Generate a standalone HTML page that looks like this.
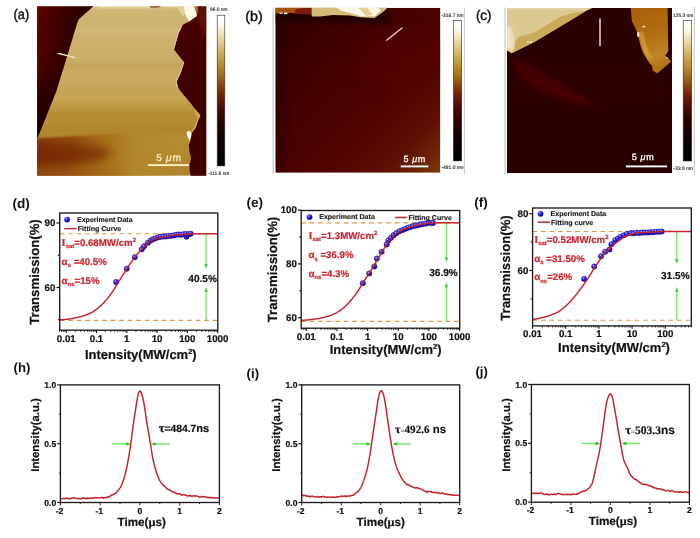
<!DOCTYPE html>
<html lang="en">
<head>
<meta charset="utf-8">
<title>Figure</title>
<style>
html,body{margin:0;padding:0;background:#fff;}
body{width:700px;height:538px;overflow:hidden;font-family:"Liberation Sans",Arial,sans-serif;}
svg{display:block;}
</style>
</head>
<body>
<svg width="700" height="538" viewBox="0 0 700 538" text-rendering="geometricPrecision">
<defs>

<filter id="b03" x="-5%" y="-5%" width="110%" height="110%"><feGaussianBlur stdDeviation="0.35"/></filter>
<filter id="b06" x="-5%" y="-5%" width="110%" height="110%"><feGaussianBlur stdDeviation="0.6"/></filter>
<filter id="b1" x="-10%" y="-10%" width="120%" height="120%"><feGaussianBlur stdDeviation="1"/></filter>
<filter id="b2" x="-20%" y="-20%" width="140%" height="140%"><feGaussianBlur stdDeviation="2"/></filter>
<filter id="b4" x="-30%" y="-30%" width="160%" height="160%"><feGaussianBlur stdDeviation="4"/></filter>
<filter id="b8" x="-50%" y="-50%" width="200%" height="200%"><feGaussianBlur stdDeviation="8"/></filter>
<linearGradient id="cbar" x1="0" y1="0" x2="0" y2="1">
 <stop offset="0" stop-color="#ffffff"/>
 <stop offset="0.06" stop-color="#fdfbf0"/>
 <stop offset="0.15" stop-color="#e8d8a6"/>
 <stop offset="0.25" stop-color="#cfae5c"/>
 <stop offset="0.33" stop-color="#ba8c2e"/>
 <stop offset="0.40" stop-color="#a26c18"/>
 <stop offset="0.47" stop-color="#88400c"/>
 <stop offset="0.54" stop-color="#6c1e06"/>
 <stop offset="0.62" stop-color="#4a0a02"/>
 <stop offset="0.72" stop-color="#2a0200"/>
 <stop offset="0.82" stop-color="#100000"/>
 <stop offset="1" stop-color="#000000"/>
</linearGradient>
<radialGradient id="ball" cx="0.36" cy="0.32" r="0.75">
 <stop offset="0" stop-color="#dfe4ff"/>
 <stop offset="0.22" stop-color="#4448f2"/>
 <stop offset="0.6" stop-color="#1412d8"/>
 <stop offset="1" stop-color="#10068a"/>
</radialGradient>

<clipPath id="clipA"><rect x="37.1" y="6.3" width="169.2" height="169.5"/></clipPath>

<linearGradient id="aFlake" gradientUnits="userSpaceOnUse" x1="0" y1="6" x2="0" y2="175">
 <stop offset="0" stop-color="#dcc68e"/>
 <stop offset="0.03" stop-color="#d0b674"/>
 <stop offset="0.25" stop-color="#ccb06a"/>
 <stop offset="0.45" stop-color="#c8a95e"/>
 <stop offset="0.58" stop-color="#c09c48"/>
 <stop offset="0.68" stop-color="#b58d34"/>
 <stop offset="0.74" stop-color="#b0862a"/>
 <stop offset="0.79" stop-color="#b68e34"/>
 <stop offset="1" stop-color="#b0832a"/>
</linearGradient>
<linearGradient id="aSub" gradientUnits="userSpaceOnUse" x1="37" y1="0" x2="190" y2="0">
 <stop offset="0" stop-color="#8a3a0a"/>
 <stop offset="0.2" stop-color="#944a0c"/>
 <stop offset="0.42" stop-color="#a46c16"/>
 <stop offset="0.62" stop-color="#b0862a"/>
 <stop offset="1" stop-color="#b48c30" stop-opacity="0"/>
</linearGradient>
<linearGradient id="aDarkL" gradientUnits="userSpaceOnUse" x1="37" y1="0" x2="80" y2="0">
 <stop offset="0" stop-color="#620605"/>
 <stop offset="0.25" stop-color="#4e0202"/>
 <stop offset="0.6" stop-color="#3e0000"/>
 <stop offset="1" stop-color="#300000"/>
</linearGradient>
<linearGradient id="aDarkLv" gradientUnits="userSpaceOnUse" x1="0" y1="6" x2="0" y2="138">
 <stop offset="0" stop-color="#000" stop-opacity="0"/>
 <stop offset="0.45" stop-color="#000" stop-opacity="0.15"/>
 <stop offset="0.75" stop-color="#000" stop-opacity="0.55"/>
 <stop offset="1" stop-color="#000" stop-opacity="0.8"/>
</linearGradient>
<linearGradient id="aDarkR" gradientUnits="userSpaceOnUse" x1="0" y1="6" x2="0" y2="175">
 <stop offset="0" stop-color="#4a0805"/>
 <stop offset="0.3" stop-color="#410302"/>
 <stop offset="0.6" stop-color="#3c0201"/>
 <stop offset="0.8" stop-color="#420302"/>
 <stop offset="1" stop-color="#400302"/>
</linearGradient>

<clipPath id="clipB"><rect x="275.4" y="7.8" width="165" height="165"/></clipPath>

<linearGradient id="bBase" gradientUnits="userSpaceOnUse" x1="290" y1="25" x2="440" y2="172">
 <stop offset="0" stop-color="#360000"/>
 <stop offset="0.3" stop-color="#440100"/>
 <stop offset="0.6" stop-color="#500401"/>
 <stop offset="0.8" stop-color="#5e0e03"/>
 <stop offset="0.92" stop-color="#6e2406"/>
 <stop offset="1" stop-color="#7e3a0a"/>
</linearGradient>

<clipPath id="clipC"><rect x="507" y="8" width="165" height="165.2"/></clipPath>

<linearGradient id="cBase" x1="0" y1="0" x2="0" y2="1">
 <stop offset="0" stop-color="#2a0000"/>
 <stop offset="0.5" stop-color="#2c0000"/>
 <stop offset="1" stop-color="#280000"/>
</linearGradient>
<linearGradient id="cGold" gradientUnits="userSpaceOnUse" x1="640" y1="8" x2="660" y2="72">
 <stop offset="0" stop-color="#a8620e"/>
 <stop offset="0.45" stop-color="#b26e12"/>
 <stop offset="0.75" stop-color="#bf8426"/>
 <stop offset="1" stop-color="#ac6c12"/>
</linearGradient>

</defs>
<rect x="0" y="0" width="700" height="538" fill="#ffffff"/>
<g clip-path="url(#clipA)">
<rect x="37.1" y="6.3" width="169.2" height="169.5" fill="url(#aFlake)"/>
<g filter="url(#b2)" opacity="0.5">
<rect x="60" y="28" width="130" height="5" fill="#d8c084"/>
<rect x="50" y="64" width="140" height="4" fill="#bd9a4a"/>
<rect x="40" y="96" width="150" height="5" fill="#d0b060"/>
<rect x="40" y="112" width="160" height="6" fill="#b08428"/>
</g>
<g filter="url(#b1)">
<polygon points="30,138.8 110,134 150,131.5 195,129 195,180 30,180" fill="url(#aSub)"/>
</g>
<g filter="url(#b4)">
<polygon points="20,144 70,143 100,147 114,153 98,161 64,166 20,167" fill="#6c2005" opacity="0.62"/>
<polygon points="34,168 120,166 120,178 34,178" fill="#a06214" opacity="0.3"/>
</g>
<g filter="url(#b06)">
<polygon points="30,0 93.5,0 93.2,6.5 79,19 77.2,23 66,60 56,92 37.5,138 30,138" fill="url(#aDarkL)"/>
<polygon points="30,0 93.5,0 93.2,6.5 79,19 77.2,23 66,60 56,92 37.5,138 30,138" fill="url(#aDarkLv)"/>
<polygon points="197,0 197,6 196.5,16 189,21.5 182.5,25 178.5,33.5 174,49.5 178.5,55.3 182.4,60.3 184.3,62.2 181.1,71.9 178.6,77.6 176.6,82.1 178.6,88.6 183.7,95 191.4,104 194,107.7 200.4,115.4 198.5,119.3 195.3,128.3 191.4,133.4 190.8,139.8 188.8,145 189.5,151.4 191.2,158 189.5,164.8 189.5,170 190.8,176 215,176 215,0" fill="url(#aDarkR)"/>
</g>
<polygon points="197,8 206,8 206,40 202,30" fill="#7a1a0c" opacity="0.6" filter="url(#b2)"/>
<g filter="url(#b03)" fill="none" stroke="#f3e2b0" stroke-width="1" stroke-dasharray="1.3 0.9">
<polyline points="182,25.5 178.2,33.5 173.8,49"/>
<polyline points="183.6,62.5 180.6,72 178,77.5 176.2,82 177.5,87"/>
</g>
<polyline points="199.8,116 198,119.5 195,128 191.5,132" fill="none" stroke="#e6c070" stroke-width="1" filter="url(#b03)"/>
<polygon points="149,6 161,6 158,8.2 151,8" fill="#6a2008" filter="url(#b06)"/>
<g filter="url(#b06)">
<polygon points="193,6 198,6 197.5,14 196,15" fill="#a8742a"/>
<polygon points="183,6 194,6 197,16 189,21.6 185,14" fill="#fffbea"/>
<polygon points="177,6 183.5,6 185,13 183,17 180,12" fill="#e6d09a"/>
<polygon points="186.3,132.5 189,130.8 191.6,133 191,137 189.6,140.3 187.6,137" fill="#fffdf2"/>
<polygon points="194.5,108.5 200.2,115.2 198.6,118.6 195,114" fill="#d9a648"/>
</g>
<rect x="100" y="6" width="60" height="2.5" fill="#efe2ba" opacity="0.6" filter="url(#b1)"/>
<line x1="58" y1="53.3" x2="75" y2="57.6" stroke="#f4e6c0" stroke-width="1.4" stroke-linecap="round" filter="url(#b03)"/>
<rect x="148.2" y="164.15" width="40.8" height="1.9" fill="#f8eec8"/>
<text x="156.2" y="160.9" font-family='"Liberation Sans", Arial, Helvetica, sans-serif' font-size="10.1" letter-spacing="0.75" fill="#f8eec8" stroke="#f8eec8" stroke-width="0.3">5 <tspan font-style="italic">μ</tspan>m</text>
</g>
<rect x="217.2" y="15.2" width="7.6" height="150.7" fill="url(#cbar)" stroke="#2a2a2a" stroke-width="0.6"/>
<text x="218.8" y="11" font-family='"Liberation Sans", Arial, Helvetica, sans-serif' font-size="4.9" text-anchor="middle" fill="#222" stroke="#222" stroke-width="0.12">96.0 nm</text>
<text x="218.8" y="174.6" font-family='"Liberation Sans", Arial, Helvetica, sans-serif' font-size="4.9" text-anchor="middle" fill="#222" stroke="#222" stroke-width="0.12">-111.8 nm</text>
<text x="13.6" y="19.4" font-family='"Liberation Sans", Arial, Helvetica, sans-serif' font-size="14" font-weight="normal" fill="#111" stroke="#111" stroke-width="0.45" textLength="15.6" lengthAdjust="spacingAndGlyphs">(a)</text>
<line x1="273.2" y1="7.6" x2="273.2" y2="173.8" stroke="#d2d2d2" stroke-width="1.4"/>
<g clip-path="url(#clipB)">
<rect x="275.4" y="7.8" width="165" height="165" fill="url(#bBase)"/>
<ellipse cx="400" cy="60" rx="45" ry="30" fill="#560503" opacity="0.35" filter="url(#b8)"/>
<rect x="270" y="12" width="120" height="11" fill="#1c0000" opacity="0.75" filter="url(#b2)"/>
<rect x="272" y="20" width="14" height="150" fill="#2a0000" opacity="0.5" filter="url(#b4)"/>
<g filter="url(#b06)">
<polygon points="275,6 313,6 312,14 300,13 290,13 275,13.5" fill="#a4520f"/>
<polygon points="296,9.2 303,8 312,8 312,14.5 294,14" fill="#7c1c0a"/>
<polygon points="311.7,6 388,6 386,9.5 379.5,14.6 374.5,18 360.6,17.2 350,15.4 333,15 320,16.5 311.7,16.5" fill="#d6bc7c"/>
<polygon points="335,6 376,6 381,10 375,16 362,16.5 352,13.5 340,10.3" fill="#fbf6e2"/>
<polygon points="358,7.5 367,7.5 373,15 366,16" fill="#e2cf9a"/>
<rect x="279.5" y="12.6" width="3" height="1.4" fill="#f3dcc0"/><rect x="284" y="12.6" width="3.4" height="1.6" fill="#fff"/>
</g>
<line x1="386.6" y1="40.2" x2="402" y2="27.9" stroke="#f2cdb6" stroke-width="1.3" stroke-linecap="round" filter="url(#b03)"/>
<rect x="400.7" y="165.45" width="27.6" height="1.9" fill="#fff"/>
<text x="403.4" y="161.6" font-family='"Liberation Sans", Arial, Helvetica, sans-serif' font-size="9" letter-spacing="0.65" fill="#fff" stroke="#fff" stroke-width="0.3">5 <tspan font-style="italic">μ</tspan>m</text>
</g>
<rect x="453.4" y="20.3" width="8.3" height="140.6" fill="url(#cbar)" stroke="#2a2a2a" stroke-width="0.6"/>
<text x="452.5" y="17" font-family='"Liberation Sans", Arial, Helvetica, sans-serif' font-size="4.9" text-anchor="middle" fill="#222" stroke="#222" stroke-width="0.12">-316.7 nm</text>
<text x="452.5" y="169.1" font-family='"Liberation Sans", Arial, Helvetica, sans-serif' font-size="4.9" text-anchor="middle" fill="#222" stroke="#222" stroke-width="0.12">-481.0 nm</text>
<line x1="464.5" y1="7.6" x2="464.5" y2="174.5" stroke="#cfcfcf" stroke-width="1.2"/>
<text x="245.3" y="20.7" font-family='"Liberation Sans", Arial, Helvetica, sans-serif' font-size="14" font-weight="normal" fill="#111" stroke="#111" stroke-width="0.45" textLength="17.4" lengthAdjust="spacingAndGlyphs">(b)</text>
<line x1="505.0" y1="7.6" x2="505.0" y2="174.4" stroke="#d2d2d2" stroke-width="1.4"/>
<g clip-path="url(#clipC)">
<rect x="507" y="8" width="165" height="165.2" fill="url(#cBase)"/>
<polygon points="512,58 540,70 575,92 600,106 585,106 550,96 520,80" fill="#4a0502" opacity="0.85" filter="url(#b2)"/>
<g filter="url(#b06)">
<polygon points="505,6 592.6,6 591.6,8.6 585.8,11.1 568.6,21.4 551.5,31.7 534.3,42 511.6,53.2 505,49.5" fill="#dbc990"/>
<polygon points="577,12.2 561.4,16.3 547,24.9 534,32.7 518.6,37 515.7,40.6 514.3,49 512.5,53 534.3,42 551.5,31.7 568.6,21.4 585.8,11.1" fill="#c9aa56"/>
<polygon points="505,27 511,27 514,38 513.5,50 505,48" fill="#f1e9cc" opacity="0.8" filter="url(#b1)"/>
<rect x="505" y="6" width="82" height="4" fill="#e6d9aa" opacity="0.7"/>
<polygon points="630.7,6 667.5,6 668.3,51 665.3,55.5 667.5,57.7 671.3,61.4 657.1,73.6 652.7,70.4 652,65.9 647.5,60 643,52.5 640.8,46.6 638.6,37.7 637.1,31.7 634.9,27.3 631.9,21.3" fill="url(#cGold)"/>
<polygon points="639.5,30 643,33 647,48 652,58 648.5,58.5 643.5,50 640.5,40" fill="#d8a648" opacity="0.75" filter="url(#b1)"/>
<polygon points="637,32.6 639.2,32.2 639.5,36.6 637.4,37" fill="#fff4d8"/>
<rect x="642.4" y="25.8" width="2.8" height="1.6" fill="#f3ddb0"/>
<rect x="666.0" y="57.0" width="1.6" height="1.6" fill="#f3ddb0"/>
<rect x="527.2" y="41.2" width="1.6" height="1.4" fill="#fff"/><rect x="530.2" y="41.2" width="1.6" height="1.4" fill="#fff"/>
</g>
<rect x="599.1" y="18.2" width="1.8" height="28.2" rx="0.8" fill="#d4b6ae"/>
<rect x="625.9" y="165.45" width="41.2" height="1.9" fill="#fff"/>
<text x="631.8" y="159.8" font-family='"Liberation Sans", Arial, Helvetica, sans-serif' font-size="9" letter-spacing="0.65" fill="#fff" stroke="#fff" stroke-width="0.3">5 <tspan font-style="italic">μ</tspan>m</text>
</g>
<rect x="683.2" y="20.3" width="8.5" height="140.7" fill="url(#cbar)" stroke="#2a2a2a" stroke-width="0.6"/>
<text x="683.2" y="17.4" font-family='"Liberation Sans", Arial, Helvetica, sans-serif' font-size="4.9" text-anchor="middle" fill="#222" stroke="#222" stroke-width="0.12">125.3 nm</text>
<text x="683.2" y="169.6" font-family='"Liberation Sans", Arial, Helvetica, sans-serif' font-size="4.9" text-anchor="middle" fill="#222" stroke="#222" stroke-width="0.12">-33.9 nm</text>
<line x1="694.4" y1="7" x2="694.4" y2="174.5" stroke="#cfcfcf" stroke-width="1.2"/>
<text x="475.9" y="20.4" font-family='"Liberation Sans", Arial, Helvetica, sans-serif' font-size="14" font-weight="normal" fill="#111" stroke="#111" stroke-width="0.45" textLength="15.5" lengthAdjust="spacingAndGlyphs">(c)</text>
<line x1="59.7" y1="233.7" x2="217.8" y2="233.7" stroke="#e8923c" stroke-width="1.15" stroke-dasharray="4.6 3.9"/>
<line x1="59.7" y1="320.4" x2="217.8" y2="320.4" stroke="#e8923c" stroke-width="1.15" stroke-dasharray="4.6 3.9"/>
<line x1="206.1" y1="233.7" x2="206.1" y2="266.8" stroke="#5ee04a" stroke-width="1.1"/>
<polygon points="204.5,264 207.7,264 206.1,268.8" fill="#35cc2e"/>
<line x1="206.1" y1="320.4" x2="206.1" y2="289.3" stroke="#5ee04a" stroke-width="1.1"/>
<polygon points="204.5,292.1 207.7,292.1 206.1,287.3" fill="#35cc2e"/>
<text x="202.6" y="282" font-family='"Liberation Sans", Arial, Helvetica, sans-serif' font-size="10.1" font-weight="bold" text-anchor="middle" fill="#111" stroke="#111" stroke-width="0.2">40.5%</text>
<circle cx="116.1" cy="282" r="2.75" fill="url(#ball)" stroke="#3a0a6a" stroke-width="0.35"/>
<circle cx="126.7" cy="268.8" r="2.75" fill="url(#ball)" stroke="#3a0a6a" stroke-width="0.35"/>
<circle cx="134.8" cy="257.3" r="2.75" fill="url(#ball)" stroke="#3a0a6a" stroke-width="0.35"/>
<circle cx="141.8" cy="249.3" r="2.75" fill="url(#ball)" stroke="#3a0a6a" stroke-width="0.35"/>
<circle cx="144" cy="246.2" r="2.75" fill="url(#ball)" stroke="#3a0a6a" stroke-width="0.35"/>
<circle cx="147.9" cy="242.8" r="2.75" fill="url(#ball)" stroke="#3a0a6a" stroke-width="0.35"/>
<circle cx="150.7" cy="240.6" r="2.75" fill="url(#ball)" stroke="#3a0a6a" stroke-width="0.35"/>
<circle cx="152.9" cy="239.3" r="2.75" fill="url(#ball)" stroke="#3a0a6a" stroke-width="0.35"/>
<circle cx="155.7" cy="238.2" r="2.75" fill="url(#ball)" stroke="#3a0a6a" stroke-width="0.35"/>
<circle cx="158.5" cy="237.3" r="2.75" fill="url(#ball)" stroke="#3a0a6a" stroke-width="0.35"/>
<circle cx="160.7" cy="236.7" r="2.75" fill="url(#ball)" stroke="#3a0a6a" stroke-width="0.35"/>
<circle cx="163.5" cy="236.6" r="2.75" fill="url(#ball)" stroke="#3a0a6a" stroke-width="0.35"/>
<circle cx="166" cy="236.42" r="2.75" fill="url(#ball)" stroke="#3a0a6a" stroke-width="0.35"/>
<circle cx="168.5" cy="235.94" r="2.75" fill="url(#ball)" stroke="#3a0a6a" stroke-width="0.35"/>
<circle cx="171" cy="235.73" r="2.75" fill="url(#ball)" stroke="#3a0a6a" stroke-width="0.35"/>
<circle cx="173.5" cy="235.43" r="2.75" fill="url(#ball)" stroke="#3a0a6a" stroke-width="0.35"/>
<circle cx="176" cy="234.8" r="2.75" fill="url(#ball)" stroke="#3a0a6a" stroke-width="0.35"/>
<circle cx="178.5" cy="234.5" r="2.75" fill="url(#ball)" stroke="#3a0a6a" stroke-width="0.35"/>
<circle cx="181" cy="234.76" r="2.75" fill="url(#ball)" stroke="#3a0a6a" stroke-width="0.35"/>
<circle cx="183.5" cy="234.17" r="2.75" fill="url(#ball)" stroke="#3a0a6a" stroke-width="0.35"/>
<circle cx="186.5" cy="236.8" r="2.75" fill="url(#ball)" stroke="#3a0a6a" stroke-width="0.35"/>
<circle cx="186" cy="233.93" r="2.75" fill="url(#ball)" stroke="#3a0a6a" stroke-width="0.35"/>
<circle cx="188.5" cy="234.21" r="2.75" fill="url(#ball)" stroke="#3a0a6a" stroke-width="0.35"/>
<circle cx="190.7" cy="233.81" r="2.75" fill="url(#ball)" stroke="#3a0a6a" stroke-width="0.35"/>
<path d="M59.7 319.82 L60.2 319.8 L60.7 319.78 L61.2 319.75 L61.7 319.72 L62.2 319.69 L62.7 319.66 L63.2 319.62 L63.7 319.58 L64.2 319.54 L64.7 319.5 L65.2 319.45 L65.7 319.4 L66.2 319.35 L66.7 319.29 L67.2 319.23 L67.7 319.17 L68.2 319.11 L68.7 319.05 L69.2 318.98 L69.7 318.91 L70.2 318.84 L70.7 318.76 L71.2 318.68 L71.7 318.6 L72.2 318.51 L72.7 318.42 L73.2 318.33 L73.7 318.24 L74.2 318.14 L74.7 318.04 L75.2 317.94 L75.7 317.83 L76.2 317.72 L76.7 317.61 L77.2 317.5 L77.7 317.38 L78.2 317.26 L78.7 317.14 L79.2 317.02 L79.7 316.89 L80.2 316.76 L80.7 316.63 L81.2 316.49 L81.7 316.35 L82.2 316.21 L82.7 316.06 L83.2 315.91 L83.7 315.75 L84.2 315.59 L84.7 315.43 L85.2 315.26 L85.7 315.09 L86.2 314.91 L86.7 314.72 L87.2 314.53 L87.7 314.34 L88.2 314.13 L88.7 313.92 L89.2 313.7 L89.7 313.47 L90.2 313.23 L90.7 312.98 L91.2 312.72 L91.7 312.44 L92.2 312.16 L92.7 311.86 L93.2 311.55 L93.7 311.23 L94.2 310.9 L94.7 310.55 L95.2 310.2 L95.7 309.83 L96.2 309.45 L96.7 309.07 L97.2 308.67 L97.7 308.27 L98.2 307.85 L98.7 307.43 L99.2 307 L99.7 306.56 L100.2 306.11 L100.7 305.65 L101.2 305.18 L101.7 304.71 L102.2 304.22 L102.7 303.73 L103.2 303.22 L103.7 302.71 L104.2 302.19 L104.7 301.66 L105.2 301.11 L105.7 300.55 L106.2 299.99 L106.7 299.41 L107.2 298.81 L107.7 298.21 L108.2 297.58 L108.7 296.95 L109.2 296.3 L109.7 295.64 L110.2 294.96 L110.7 294.27 L111.2 293.56 L111.7 292.84 L112.2 292.11 L112.7 291.36 L113.2 290.6 L113.7 289.83 L114.2 289.04 L114.7 288.25 L115.2 287.45 L115.7 286.64 L116.2 285.83 L116.7 285.01 L117.2 284.18 L117.7 283.36 L118.2 282.53 L118.7 281.71 L119.2 280.89 L119.7 280.07 L120.2 279.25 L120.7 278.44 L121.2 277.63 L121.7 276.82 L122.2 276.02 L122.7 275.23 L123.2 274.44 L123.7 273.65 L124.2 272.86 L124.7 272.08 L125.2 271.31 L125.7 270.53 L126.2 269.76 L126.7 268.99 L127.2 268.22 L127.7 267.46 L128.2 266.69 L128.7 265.94 L129.2 265.18 L129.7 264.43 L130.2 263.68 L130.7 262.94 L131.2 262.21 L131.7 261.49 L132.2 260.78 L132.7 260.07 L133.2 259.38 L133.7 258.7 L134.2 258.04 L134.7 257.38 L135.2 256.74 L135.7 256.11 L136.2 255.49 L136.7 254.88 L137.2 254.27 L137.7 253.68 L138.2 253.09 L138.7 252.51 L139.2 251.93 L139.7 251.36 L140.2 250.79 L140.7 250.22 L141.2 249.66 L141.7 249.1 L142.2 248.55 L142.7 248.01 L143.2 247.48 L143.7 246.96 L144.2 246.45 L144.7 245.95 L145.2 245.47 L145.7 245.01 L146.2 244.57 L146.7 244.14 L147.2 243.73 L147.7 243.33 L148.2 242.95 L148.7 242.59 L149.2 242.24 L149.7 241.91 L150.2 241.59 L150.7 241.29 L151.2 241 L151.7 240.72 L152.2 240.46 L152.7 240.2 L153.2 239.96 L153.7 239.73 L154.2 239.51 L154.7 239.3 L155.2 239.09 L155.7 238.9 L156.2 238.72 L156.7 238.54 L157.2 238.38 L157.7 238.22 L158.2 238.07 L158.7 237.93 L159.2 237.79 L159.7 237.66 L160.2 237.54 L160.7 237.43 L161.2 237.32 L161.7 237.21 L162.2 237.11 L162.7 237.01 L163.2 236.92 L163.7 236.83 L164.2 236.75 L164.7 236.66 L165.2 236.58 L165.7 236.5 L166.2 236.43 L166.7 236.35 L167.2 236.28 L167.7 236.2 L168.2 236.13 L168.7 236.06 L169.2 235.99 L169.7 235.92 L170.2 235.85 L170.7 235.78 L171.2 235.72 L171.7 235.65 L172.2 235.59 L172.7 235.52 L173.2 235.46 L173.7 235.4 L174.2 235.34 L174.7 235.28 L175.2 235.22 L175.7 235.17 L176.2 235.11 L176.7 235.05 L177.2 235 L177.7 234.95 L178.2 234.89 L178.7 234.84 L179.2 234.79 L179.7 234.74 L180.2 234.69 L180.7 234.64 L181.2 234.59 L181.7 234.55 L182.2 234.5 L182.7 234.45 L183.2 234.41 L183.7 234.36 L184.2 234.32 L184.7 234.28 L185.2 234.24 L185.7 234.2 L186.2 234.16 L186.7 234.13 L187.2 234.09 L187.7 234.06 L188.2 234.03 L188.7 234 L189.2 233.98 L189.7 233.95 L190.2 233.93 L190.7 233.91 L191.2 233.89 L191.7 233.87 L192.2 233.85 L192.7 233.84 L193.2 233.82 L193.7 233.81 L194.2 233.8 L194.7 233.78 L195.2 233.77 L195.7 233.76 L196.2 233.75 L196.7 233.75 L197.2 233.74 L197.7 233.73 L198.2 233.73 L198.7 233.72 L199.2 233.72 L199.7 233.71 L200.2 233.71 L200.7 233.71 L201.2 233.71 L201.7 233.7 L202.2 233.7 L202.7 233.7 L203.2 233.7 L203.7 233.7 L204.2 233.7 L204.7 233.7 L205.2 233.7 L205.7 233.7 L206.2 233.7 L206.7 233.7 L207.2 233.7 L207.7 233.7 L208.2 233.7 L208.7 233.7 L209.2 233.7 L209.7 233.7 L210.2 233.7 L210.7 233.7 L211.2 233.7 L211.7 233.7 L212.2 233.7 L212.7 233.7 L213.2 233.7 L213.7 233.7 L214.2 233.7 L214.7 233.7 L215.2 233.7 L215.7 233.7 L216.2 233.7 L216.7 233.7 L217.2 233.7 L217.7 233.7" fill="none" stroke="#c8232c" stroke-width="1.45"/>
<rect x="59.7" y="213" width="158.1" height="117.2" fill="none" stroke="#1c1c1c" stroke-width="1.35"/>
<line x1="59.53" y1="330.2" x2="59.53" y2="331.9" stroke="#111" stroke-width="0.8"/>
<line x1="61.56" y1="330.2" x2="61.56" y2="331.9" stroke="#111" stroke-width="0.8"/>
<line x1="63.32" y1="330.2" x2="63.32" y2="331.9" stroke="#111" stroke-width="0.8"/>
<line x1="64.86" y1="330.2" x2="64.86" y2="331.9" stroke="#111" stroke-width="0.8"/>
<line x1="66.25" y1="330.2" x2="66.25" y2="333.1" stroke="#111" stroke-width="1.1"/>
<line x1="75.36" y1="330.2" x2="75.36" y2="331.9" stroke="#111" stroke-width="0.8"/>
<line x1="80.69" y1="330.2" x2="80.69" y2="331.9" stroke="#111" stroke-width="0.8"/>
<line x1="84.47" y1="330.2" x2="84.47" y2="331.9" stroke="#111" stroke-width="0.8"/>
<line x1="87.41" y1="330.2" x2="87.41" y2="331.9" stroke="#111" stroke-width="0.8"/>
<line x1="89.8" y1="330.2" x2="89.8" y2="331.9" stroke="#111" stroke-width="0.8"/>
<line x1="91.83" y1="330.2" x2="91.83" y2="331.9" stroke="#111" stroke-width="0.8"/>
<line x1="93.59" y1="330.2" x2="93.59" y2="331.9" stroke="#111" stroke-width="0.8"/>
<line x1="95.13" y1="330.2" x2="95.13" y2="331.9" stroke="#111" stroke-width="0.8"/>
<line x1="96.52" y1="330.2" x2="96.52" y2="333.1" stroke="#111" stroke-width="1.1"/>
<line x1="105.63" y1="330.2" x2="105.63" y2="331.9" stroke="#111" stroke-width="0.8"/>
<line x1="110.96" y1="330.2" x2="110.96" y2="331.9" stroke="#111" stroke-width="0.8"/>
<line x1="114.74" y1="330.2" x2="114.74" y2="331.9" stroke="#111" stroke-width="0.8"/>
<line x1="117.68" y1="330.2" x2="117.68" y2="331.9" stroke="#111" stroke-width="0.8"/>
<line x1="120.07" y1="330.2" x2="120.07" y2="331.9" stroke="#111" stroke-width="0.8"/>
<line x1="122.1" y1="330.2" x2="122.1" y2="331.9" stroke="#111" stroke-width="0.8"/>
<line x1="123.86" y1="330.2" x2="123.86" y2="331.9" stroke="#111" stroke-width="0.8"/>
<line x1="125.4" y1="330.2" x2="125.4" y2="331.9" stroke="#111" stroke-width="0.8"/>
<line x1="126.79" y1="330.2" x2="126.79" y2="333.1" stroke="#111" stroke-width="1.1"/>
<line x1="135.9" y1="330.2" x2="135.9" y2="331.9" stroke="#111" stroke-width="0.8"/>
<line x1="141.23" y1="330.2" x2="141.23" y2="331.9" stroke="#111" stroke-width="0.8"/>
<line x1="145.01" y1="330.2" x2="145.01" y2="331.9" stroke="#111" stroke-width="0.8"/>
<line x1="147.95" y1="330.2" x2="147.95" y2="331.9" stroke="#111" stroke-width="0.8"/>
<line x1="150.34" y1="330.2" x2="150.34" y2="331.9" stroke="#111" stroke-width="0.8"/>
<line x1="152.37" y1="330.2" x2="152.37" y2="331.9" stroke="#111" stroke-width="0.8"/>
<line x1="154.13" y1="330.2" x2="154.13" y2="331.9" stroke="#111" stroke-width="0.8"/>
<line x1="155.67" y1="330.2" x2="155.67" y2="331.9" stroke="#111" stroke-width="0.8"/>
<line x1="157.06" y1="330.2" x2="157.06" y2="333.1" stroke="#111" stroke-width="1.1"/>
<line x1="166.17" y1="330.2" x2="166.17" y2="331.9" stroke="#111" stroke-width="0.8"/>
<line x1="171.5" y1="330.2" x2="171.5" y2="331.9" stroke="#111" stroke-width="0.8"/>
<line x1="175.28" y1="330.2" x2="175.28" y2="331.9" stroke="#111" stroke-width="0.8"/>
<line x1="178.22" y1="330.2" x2="178.22" y2="331.9" stroke="#111" stroke-width="0.8"/>
<line x1="180.61" y1="330.2" x2="180.61" y2="331.9" stroke="#111" stroke-width="0.8"/>
<line x1="182.64" y1="330.2" x2="182.64" y2="331.9" stroke="#111" stroke-width="0.8"/>
<line x1="184.4" y1="330.2" x2="184.4" y2="331.9" stroke="#111" stroke-width="0.8"/>
<line x1="185.94" y1="330.2" x2="185.94" y2="331.9" stroke="#111" stroke-width="0.8"/>
<line x1="187.33" y1="330.2" x2="187.33" y2="333.1" stroke="#111" stroke-width="1.1"/>
<line x1="196.44" y1="330.2" x2="196.44" y2="331.9" stroke="#111" stroke-width="0.8"/>
<line x1="201.77" y1="330.2" x2="201.77" y2="331.9" stroke="#111" stroke-width="0.8"/>
<line x1="205.55" y1="330.2" x2="205.55" y2="331.9" stroke="#111" stroke-width="0.8"/>
<line x1="208.49" y1="330.2" x2="208.49" y2="331.9" stroke="#111" stroke-width="0.8"/>
<line x1="210.88" y1="330.2" x2="210.88" y2="331.9" stroke="#111" stroke-width="0.8"/>
<line x1="212.91" y1="330.2" x2="212.91" y2="331.9" stroke="#111" stroke-width="0.8"/>
<line x1="214.67" y1="330.2" x2="214.67" y2="331.9" stroke="#111" stroke-width="0.8"/>
<line x1="216.21" y1="330.2" x2="216.21" y2="331.9" stroke="#111" stroke-width="0.8"/>
<line x1="217.6" y1="330.2" x2="217.6" y2="333.1" stroke="#111" stroke-width="1.1"/>
<text x="66.25" y="342" font-family='"Liberation Sans", Arial, Helvetica, sans-serif' font-size="9.7" font-weight="bold" text-anchor="middle" fill="#111" stroke="#111" stroke-width="0.2">0.01</text>
<text x="96.52" y="342" font-family='"Liberation Sans", Arial, Helvetica, sans-serif' font-size="9.7" font-weight="bold" text-anchor="middle" fill="#111" stroke="#111" stroke-width="0.2">0.1</text>
<text x="126.79" y="342" font-family='"Liberation Sans", Arial, Helvetica, sans-serif' font-size="9.7" font-weight="bold" text-anchor="middle" fill="#111" stroke="#111" stroke-width="0.2">1</text>
<text x="157.06" y="342" font-family='"Liberation Sans", Arial, Helvetica, sans-serif' font-size="9.7" font-weight="bold" text-anchor="middle" fill="#111" stroke="#111" stroke-width="0.2">10</text>
<text x="187.33" y="342" font-family='"Liberation Sans", Arial, Helvetica, sans-serif' font-size="9.7" font-weight="bold" text-anchor="middle" fill="#111" stroke="#111" stroke-width="0.2">100</text>
<text x="217.6" y="342" font-family='"Liberation Sans", Arial, Helvetica, sans-serif' font-size="9.7" font-weight="bold" text-anchor="middle" fill="#111" stroke="#111" stroke-width="0.2">1000</text>
<line x1="56.5" y1="223" x2="59.7" y2="223" stroke="#111" stroke-width="1.2"/>
<text x="55.4" y="226.2" font-family='"Liberation Sans", Arial, Helvetica, sans-serif' font-size="9.7" font-weight="bold" text-anchor="end" fill="#111" stroke="#111" stroke-width="0.2">90</text>
<line x1="56.5" y1="287.5" x2="59.7" y2="287.5" stroke="#111" stroke-width="1.2"/>
<text x="55.4" y="290.7" font-family='"Liberation Sans", Arial, Helvetica, sans-serif' font-size="9.7" font-weight="bold" text-anchor="end" fill="#111" stroke="#111" stroke-width="0.2">60</text>
<line x1="57.8" y1="319.75" x2="59.7" y2="319.75" stroke="#111" stroke-width="1.1"/>
<line x1="57.8" y1="255.25" x2="59.7" y2="255.25" stroke="#111" stroke-width="1.1"/>
<text x="140.8" y="359.4" font-family='"Liberation Sans", Arial, Helvetica, sans-serif' font-size="13" font-weight="bold" text-anchor="middle" fill="#111" stroke="#111" stroke-width="0.2">Intensity(MW/cm<tspan font-size="7.5" dy="-5.2">2</tspan><tspan dy="5.2">)</tspan></text>
<text transform="translate(39.2 272) rotate(-90)" font-family='"Liberation Sans", Arial, Helvetica, sans-serif' font-size="13.2" font-weight="bold" text-anchor="middle" fill="#111" stroke="#111" stroke-width="0.2">Transmission(%)</text>
<text x="12.5" y="208" font-family='"Liberation Sans", Arial, Helvetica, sans-serif' font-size="13.6" font-weight="bold" fill="#111">(d)</text>
<circle cx="67.1" cy="219.6" r="2.85" fill="url(#ball)"/>
<text x="77" y="222" font-family='"Liberation Sans", Arial, Helvetica, sans-serif' font-size="7.05" font-weight="bold" fill="#1a1a1a" stroke="#1a1a1a" stroke-width="0.15">Experiment Data</text>
<line x1="64.2" y1="228.6" x2="76.6" y2="228.6" stroke="#c8232c" stroke-width="1.5"/>
<text x="77.8" y="231" font-family='"Liberation Sans", Arial, Helvetica, sans-serif' font-size="7.05" font-weight="bold" fill="#1a1a1a" stroke="#1a1a1a" stroke-width="0.15">Fitting Curve</text>
<text x="61.6" y="245.9" font-size="9.7" font-weight="bold" fill="#cb2731" stroke="#cb2731" stroke-width="0.2"><tspan font-family='"Liberation Serif", "Times New Roman", serif' font-size="10.48">I</tspan><tspan font-family='"Liberation Sans", Arial, Helvetica, sans-serif' font-size="5.92" dy="2.3">sat</tspan><tspan font-family='"Liberation Sans", Arial, Helvetica, sans-serif' dy="-2.3">=0.68MW/cm<tspan font-size="6.01" dy="-3.6">2</tspan></tspan></text>
<text x="61.6" y="264.6" font-size="9.7" font-weight="bold" fill="#cb2731" stroke="#cb2731" stroke-width="0.2"><tspan font-family='"Liberation Sans", Arial, Helvetica, sans-serif' font-size="9.89">α</tspan><tspan font-family='"Liberation Sans", Arial, Helvetica, sans-serif' font-size="5.92" dy="2.3">s</tspan><tspan font-family='"Liberation Sans", Arial, Helvetica, sans-serif' dy="-2.3"> =40.5%</tspan></text>
<text x="61.6" y="283.5" font-size="9.7" font-weight="bold" fill="#cb2731" stroke="#cb2731" stroke-width="0.2"><tspan font-family='"Liberation Sans", Arial, Helvetica, sans-serif' font-size="9.89">α</tspan><tspan font-family='"Liberation Sans", Arial, Helvetica, sans-serif' font-size="5.92" dy="2.3">ns</tspan><tspan font-family='"Liberation Sans", Arial, Helvetica, sans-serif' dy="-2.3">=15%</tspan></text>
<line x1="301.2" y1="222.8" x2="459.7" y2="222.8" stroke="#e8923c" stroke-width="1.15" stroke-dasharray="4.6 3.9"/>
<line x1="301.2" y1="321.3" x2="459.7" y2="321.3" stroke="#e8923c" stroke-width="1.15" stroke-dasharray="4.6 3.9"/>
<line x1="446.4" y1="222.8" x2="446.4" y2="260" stroke="#5ee04a" stroke-width="1.1"/>
<polygon points="444.8,257.2 448,257.2 446.4,262" fill="#35cc2e"/>
<line x1="446.4" y1="321.3" x2="446.4" y2="284.5" stroke="#5ee04a" stroke-width="1.1"/>
<polygon points="444.8,287.3 448,287.3 446.4,282.5" fill="#35cc2e"/>
<text x="443.5" y="276" font-family='"Liberation Sans", Arial, Helvetica, sans-serif' font-size="10.1" font-weight="bold" text-anchor="middle" fill="#111" stroke="#111" stroke-width="0.2">36.9%</text>
<circle cx="362.8" cy="283.2" r="2.75" fill="url(#ball)" stroke="#3a0a6a" stroke-width="0.35"/>
<circle cx="369.2" cy="273.5" r="2.75" fill="url(#ball)" stroke="#3a0a6a" stroke-width="0.35"/>
<circle cx="374.3" cy="266.4" r="2.75" fill="url(#ball)" stroke="#3a0a6a" stroke-width="0.35"/>
<circle cx="376.9" cy="258.6" r="2.75" fill="url(#ball)" stroke="#3a0a6a" stroke-width="0.35"/>
<circle cx="381.6" cy="251.8" r="2.75" fill="url(#ball)" stroke="#3a0a6a" stroke-width="0.35"/>
<circle cx="386.7" cy="244.6" r="2.75" fill="url(#ball)" stroke="#3a0a6a" stroke-width="0.35"/>
<circle cx="388.4" cy="240.4" r="2.75" fill="url(#ball)" stroke="#3a0a6a" stroke-width="0.35"/>
<circle cx="391" cy="237.8" r="2.75" fill="url(#ball)" stroke="#3a0a6a" stroke-width="0.35"/>
<circle cx="393.6" cy="235.2" r="2.75" fill="url(#ball)" stroke="#3a0a6a" stroke-width="0.35"/>
<circle cx="396.2" cy="233.2" r="2.75" fill="url(#ball)" stroke="#3a0a6a" stroke-width="0.35"/>
<circle cx="399.4" cy="231.3" r="2.75" fill="url(#ball)" stroke="#3a0a6a" stroke-width="0.35"/>
<circle cx="402.7" cy="230" r="2.75" fill="url(#ball)" stroke="#3a0a6a" stroke-width="0.35"/>
<circle cx="405.3" cy="228.78" r="2.75" fill="url(#ball)" stroke="#3a0a6a" stroke-width="0.35"/>
<circle cx="408" cy="227.69" r="2.75" fill="url(#ball)" stroke="#3a0a6a" stroke-width="0.35"/>
<circle cx="410.6" cy="227.01" r="2.75" fill="url(#ball)" stroke="#3a0a6a" stroke-width="0.35"/>
<circle cx="413.2" cy="226" r="2.75" fill="url(#ball)" stroke="#3a0a6a" stroke-width="0.35"/>
<circle cx="415.8" cy="225.63" r="2.75" fill="url(#ball)" stroke="#3a0a6a" stroke-width="0.35"/>
<circle cx="418.4" cy="225.12" r="2.75" fill="url(#ball)" stroke="#3a0a6a" stroke-width="0.35"/>
<circle cx="421" cy="224.35" r="2.75" fill="url(#ball)" stroke="#3a0a6a" stroke-width="0.35"/>
<circle cx="423.6" cy="224.02" r="2.75" fill="url(#ball)" stroke="#3a0a6a" stroke-width="0.35"/>
<circle cx="426.2" cy="223.55" r="2.75" fill="url(#ball)" stroke="#3a0a6a" stroke-width="0.35"/>
<circle cx="428.8" cy="222.83" r="2.75" fill="url(#ball)" stroke="#3a0a6a" stroke-width="0.35"/>
<circle cx="431.4" cy="223.03" r="2.75" fill="url(#ball)" stroke="#3a0a6a" stroke-width="0.35"/>
<circle cx="433" cy="222.88" r="2.75" fill="url(#ball)" stroke="#3a0a6a" stroke-width="0.35"/>
<path d="M301.2 320.32 L301.7 320.3 L302.2 320.28 L302.7 320.26 L303.2 320.23 L303.7 320.2 L304.2 320.17 L304.7 320.14 L305.2 320.1 L305.7 320.07 L306.2 320.03 L306.7 319.99 L307.2 319.94 L307.7 319.9 L308.2 319.85 L308.7 319.8 L309.2 319.75 L309.7 319.7 L310.2 319.65 L310.7 319.59 L311.2 319.54 L311.7 319.48 L312.2 319.42 L312.7 319.35 L313.2 319.29 L313.7 319.22 L314.2 319.15 L314.7 319.08 L315.2 319.01 L315.7 318.93 L316.2 318.86 L316.7 318.78 L317.2 318.7 L317.7 318.62 L318.2 318.53 L318.7 318.45 L319.2 318.36 L319.7 318.27 L320.2 318.18 L320.7 318.08 L321.2 317.99 L321.7 317.89 L322.2 317.78 L322.7 317.68 L323.2 317.57 L323.7 317.46 L324.2 317.35 L324.7 317.23 L325.2 317.11 L325.7 316.99 L326.2 316.86 L326.7 316.73 L327.2 316.59 L327.7 316.45 L328.2 316.3 L328.7 316.15 L329.2 315.99 L329.7 315.82 L330.2 315.65 L330.7 315.47 L331.2 315.28 L331.7 315.08 L332.2 314.88 L332.7 314.66 L333.2 314.44 L333.7 314.2 L334.2 313.96 L334.7 313.71 L335.2 313.45 L335.7 313.17 L336.2 312.89 L336.7 312.61 L337.2 312.31 L337.7 312 L338.2 311.68 L338.7 311.36 L339.2 311.03 L339.7 310.68 L340.2 310.33 L340.7 309.97 L341.2 309.61 L341.7 309.23 L342.2 308.84 L342.7 308.45 L343.2 308.04 L343.7 307.63 L344.2 307.2 L344.7 306.77 L345.2 306.32 L345.7 305.86 L346.2 305.39 L346.7 304.91 L347.2 304.41 L347.7 303.91 L348.2 303.39 L348.7 302.85 L349.2 302.31 L349.7 301.75 L350.2 301.17 L350.7 300.59 L351.2 299.99 L351.7 299.39 L352.2 298.77 L352.7 298.14 L353.2 297.5 L353.7 296.85 L354.2 296.19 L354.7 295.53 L355.2 294.85 L355.7 294.16 L356.2 293.46 L356.7 292.75 L357.2 292.02 L357.7 291.29 L358.2 290.55 L358.7 289.79 L359.2 289.02 L359.7 288.24 L360.2 287.45 L360.7 286.66 L361.2 285.86 L361.7 285.05 L362.2 284.24 L362.7 283.43 L363.2 282.63 L363.7 281.82 L364.2 281.03 L364.7 280.23 L365.2 279.45 L365.7 278.66 L366.2 277.89 L366.7 277.12 L367.2 276.36 L367.7 275.6 L368.2 274.84 L368.7 274.08 L369.2 273.32 L369.7 272.55 L370.2 271.78 L370.7 271 L371.2 270.21 L371.7 269.41 L372.2 268.6 L372.7 267.78 L373.2 266.95 L373.7 266.11 L374.2 265.26 L374.7 264.4 L375.2 263.54 L375.7 262.67 L376.2 261.8 L376.7 260.92 L377.2 260.06 L377.7 259.19 L378.2 258.33 L378.7 257.47 L379.2 256.62 L379.7 255.78 L380.2 254.94 L380.7 254.11 L381.2 253.29 L381.7 252.47 L382.2 251.66 L382.7 250.85 L383.2 250.04 L383.7 249.25 L384.2 248.45 L384.7 247.66 L385.2 246.88 L385.7 246.1 L386.2 245.33 L386.7 244.57 L387.2 243.82 L387.7 243.09 L388.2 242.37 L388.7 241.66 L389.2 240.97 L389.7 240.3 L390.2 239.65 L390.7 239.03 L391.2 238.42 L391.7 237.84 L392.2 237.28 L392.7 236.74 L393.2 236.23 L393.7 235.74 L394.2 235.27 L394.7 234.82 L395.2 234.39 L395.7 233.98 L396.2 233.59 L396.7 233.22 L397.2 232.86 L397.7 232.52 L398.2 232.19 L398.7 231.88 L399.2 231.58 L399.7 231.29 L400.2 231.01 L400.7 230.75 L401.2 230.49 L401.7 230.25 L402.2 230.01 L402.7 229.79 L403.2 229.57 L403.7 229.36 L404.2 229.16 L404.7 228.96 L405.2 228.78 L405.7 228.59 L406.2 228.42 L406.7 228.24 L407.2 228.07 L407.7 227.91 L408.2 227.75 L408.7 227.59 L409.2 227.44 L409.7 227.29 L410.2 227.14 L410.7 226.99 L411.2 226.85 L411.7 226.71 L412.2 226.57 L412.7 226.43 L413.2 226.3 L413.7 226.16 L414.2 226.03 L414.7 225.9 L415.2 225.78 L415.7 225.65 L416.2 225.53 L416.7 225.4 L417.2 225.28 L417.7 225.17 L418.2 225.05 L418.7 224.94 L419.2 224.83 L419.7 224.72 L420.2 224.61 L420.7 224.51 L421.2 224.41 L421.7 224.31 L422.2 224.22 L422.7 224.13 L423.2 224.04 L423.7 223.95 L424.2 223.86 L424.7 223.78 L425.2 223.7 L425.7 223.63 L426.2 223.56 L426.7 223.49 L427.2 223.42 L427.7 223.36 L428.2 223.3 L428.7 223.24 L429.2 223.19 L429.7 223.14 L430.2 223.1 L430.7 223.06 L431.2 223.02 L431.7 222.99 L432.2 222.96 L432.7 222.93 L433.2 222.91 L433.7 222.89 L434.2 222.87 L434.7 222.85 L435.2 222.84 L435.7 222.82 L436.2 222.81 L436.7 222.8 L437.2 222.79 L437.7 222.78 L438.2 222.77 L438.7 222.76 L439.2 222.75 L439.7 222.75 L440.2 222.74 L440.7 222.74 L441.2 222.73 L441.7 222.73 L442.2 222.72 L442.7 222.72 L443.2 222.71 L443.7 222.71 L444.2 222.71 L444.7 222.71 L445.2 222.71 L445.7 222.7 L446.2 222.7 L446.7 222.7 L447.2 222.7 L447.7 222.7 L448.2 222.7 L448.7 222.7 L449.2 222.7 L449.7 222.7 L450.2 222.7 L450.7 222.7 L451.2 222.7 L451.7 222.7 L452.2 222.7 L452.7 222.7 L453.2 222.7 L453.7 222.7 L454.2 222.7 L454.7 222.7 L455.2 222.7 L455.7 222.7 L456.2 222.7 L456.7 222.7 L457.2 222.7 L457.7 222.7 L458.2 222.7 L458.7 222.7 L459.2 222.7 L459.7 222.7" fill="none" stroke="#c8232c" stroke-width="1.45"/>
<rect x="301.2" y="210.5" width="158.5" height="117.7" fill="none" stroke="#1c1c1c" stroke-width="1.35"/>
<line x1="301.55" y1="328.2" x2="301.55" y2="329.9" stroke="#111" stroke-width="0.8"/>
<line x1="303.33" y1="328.2" x2="303.33" y2="329.9" stroke="#111" stroke-width="0.8"/>
<line x1="304.9" y1="328.2" x2="304.9" y2="329.9" stroke="#111" stroke-width="0.8"/>
<line x1="306.3" y1="328.2" x2="306.3" y2="331.1" stroke="#111" stroke-width="1.1"/>
<line x1="315.53" y1="328.2" x2="315.53" y2="329.9" stroke="#111" stroke-width="0.8"/>
<line x1="320.92" y1="328.2" x2="320.92" y2="329.9" stroke="#111" stroke-width="0.8"/>
<line x1="324.75" y1="328.2" x2="324.75" y2="329.9" stroke="#111" stroke-width="0.8"/>
<line x1="327.72" y1="328.2" x2="327.72" y2="329.9" stroke="#111" stroke-width="0.8"/>
<line x1="330.15" y1="328.2" x2="330.15" y2="329.9" stroke="#111" stroke-width="0.8"/>
<line x1="332.2" y1="328.2" x2="332.2" y2="329.9" stroke="#111" stroke-width="0.8"/>
<line x1="333.98" y1="328.2" x2="333.98" y2="329.9" stroke="#111" stroke-width="0.8"/>
<line x1="335.55" y1="328.2" x2="335.55" y2="329.9" stroke="#111" stroke-width="0.8"/>
<line x1="336.95" y1="328.2" x2="336.95" y2="331.1" stroke="#111" stroke-width="1.1"/>
<line x1="346.18" y1="328.2" x2="346.18" y2="329.9" stroke="#111" stroke-width="0.8"/>
<line x1="351.57" y1="328.2" x2="351.57" y2="329.9" stroke="#111" stroke-width="0.8"/>
<line x1="355.4" y1="328.2" x2="355.4" y2="329.9" stroke="#111" stroke-width="0.8"/>
<line x1="358.37" y1="328.2" x2="358.37" y2="329.9" stroke="#111" stroke-width="0.8"/>
<line x1="360.8" y1="328.2" x2="360.8" y2="329.9" stroke="#111" stroke-width="0.8"/>
<line x1="362.85" y1="328.2" x2="362.85" y2="329.9" stroke="#111" stroke-width="0.8"/>
<line x1="364.63" y1="328.2" x2="364.63" y2="329.9" stroke="#111" stroke-width="0.8"/>
<line x1="366.2" y1="328.2" x2="366.2" y2="329.9" stroke="#111" stroke-width="0.8"/>
<line x1="367.6" y1="328.2" x2="367.6" y2="331.1" stroke="#111" stroke-width="1.1"/>
<line x1="376.83" y1="328.2" x2="376.83" y2="329.9" stroke="#111" stroke-width="0.8"/>
<line x1="382.22" y1="328.2" x2="382.22" y2="329.9" stroke="#111" stroke-width="0.8"/>
<line x1="386.05" y1="328.2" x2="386.05" y2="329.9" stroke="#111" stroke-width="0.8"/>
<line x1="389.02" y1="328.2" x2="389.02" y2="329.9" stroke="#111" stroke-width="0.8"/>
<line x1="391.45" y1="328.2" x2="391.45" y2="329.9" stroke="#111" stroke-width="0.8"/>
<line x1="393.5" y1="328.2" x2="393.5" y2="329.9" stroke="#111" stroke-width="0.8"/>
<line x1="395.28" y1="328.2" x2="395.28" y2="329.9" stroke="#111" stroke-width="0.8"/>
<line x1="396.85" y1="328.2" x2="396.85" y2="329.9" stroke="#111" stroke-width="0.8"/>
<line x1="398.25" y1="328.2" x2="398.25" y2="331.1" stroke="#111" stroke-width="1.1"/>
<line x1="407.48" y1="328.2" x2="407.48" y2="329.9" stroke="#111" stroke-width="0.8"/>
<line x1="412.87" y1="328.2" x2="412.87" y2="329.9" stroke="#111" stroke-width="0.8"/>
<line x1="416.7" y1="328.2" x2="416.7" y2="329.9" stroke="#111" stroke-width="0.8"/>
<line x1="419.67" y1="328.2" x2="419.67" y2="329.9" stroke="#111" stroke-width="0.8"/>
<line x1="422.1" y1="328.2" x2="422.1" y2="329.9" stroke="#111" stroke-width="0.8"/>
<line x1="424.15" y1="328.2" x2="424.15" y2="329.9" stroke="#111" stroke-width="0.8"/>
<line x1="425.93" y1="328.2" x2="425.93" y2="329.9" stroke="#111" stroke-width="0.8"/>
<line x1="427.5" y1="328.2" x2="427.5" y2="329.9" stroke="#111" stroke-width="0.8"/>
<line x1="428.9" y1="328.2" x2="428.9" y2="331.1" stroke="#111" stroke-width="1.1"/>
<line x1="438.13" y1="328.2" x2="438.13" y2="329.9" stroke="#111" stroke-width="0.8"/>
<line x1="443.52" y1="328.2" x2="443.52" y2="329.9" stroke="#111" stroke-width="0.8"/>
<line x1="447.35" y1="328.2" x2="447.35" y2="329.9" stroke="#111" stroke-width="0.8"/>
<line x1="450.32" y1="328.2" x2="450.32" y2="329.9" stroke="#111" stroke-width="0.8"/>
<line x1="452.75" y1="328.2" x2="452.75" y2="329.9" stroke="#111" stroke-width="0.8"/>
<line x1="454.8" y1="328.2" x2="454.8" y2="329.9" stroke="#111" stroke-width="0.8"/>
<line x1="456.58" y1="328.2" x2="456.58" y2="329.9" stroke="#111" stroke-width="0.8"/>
<line x1="458.15" y1="328.2" x2="458.15" y2="329.9" stroke="#111" stroke-width="0.8"/>
<line x1="459.55" y1="328.2" x2="459.55" y2="331.1" stroke="#111" stroke-width="1.1"/>
<text x="306.3" y="339.9" font-family='"Liberation Sans", Arial, Helvetica, sans-serif' font-size="9.7" font-weight="bold" text-anchor="middle" fill="#111" stroke="#111" stroke-width="0.2">0.01</text>
<text x="336.95" y="339.9" font-family='"Liberation Sans", Arial, Helvetica, sans-serif' font-size="9.7" font-weight="bold" text-anchor="middle" fill="#111" stroke="#111" stroke-width="0.2">0.1</text>
<text x="367.6" y="339.9" font-family='"Liberation Sans", Arial, Helvetica, sans-serif' font-size="9.7" font-weight="bold" text-anchor="middle" fill="#111" stroke="#111" stroke-width="0.2">1</text>
<text x="398.25" y="339.9" font-family='"Liberation Sans", Arial, Helvetica, sans-serif' font-size="9.7" font-weight="bold" text-anchor="middle" fill="#111" stroke="#111" stroke-width="0.2">10</text>
<text x="428.9" y="339.9" font-family='"Liberation Sans", Arial, Helvetica, sans-serif' font-size="9.7" font-weight="bold" text-anchor="middle" fill="#111" stroke="#111" stroke-width="0.2">100</text>
<text x="459.55" y="339.9" font-family='"Liberation Sans", Arial, Helvetica, sans-serif' font-size="9.7" font-weight="bold" text-anchor="middle" fill="#111" stroke="#111" stroke-width="0.2">1000</text>
<line x1="298" y1="210.1" x2="301.2" y2="210.1" stroke="#111" stroke-width="1.2"/>
<text x="296.9" y="213.3" font-family='"Liberation Sans", Arial, Helvetica, sans-serif' font-size="9.7" font-weight="bold" text-anchor="end" fill="#111" stroke="#111" stroke-width="0.2">100</text>
<line x1="298" y1="263.9" x2="301.2" y2="263.9" stroke="#111" stroke-width="1.2"/>
<text x="296.9" y="267.1" font-family='"Liberation Sans", Arial, Helvetica, sans-serif' font-size="9.7" font-weight="bold" text-anchor="end" fill="#111" stroke="#111" stroke-width="0.2">80</text>
<line x1="298" y1="317.7" x2="301.2" y2="317.7" stroke="#111" stroke-width="1.2"/>
<text x="296.9" y="320.9" font-family='"Liberation Sans", Arial, Helvetica, sans-serif' font-size="9.7" font-weight="bold" text-anchor="end" fill="#111" stroke="#111" stroke-width="0.2">60</text>
<line x1="299.3" y1="290.8" x2="301.2" y2="290.8" stroke="#111" stroke-width="1.1"/>
<line x1="299.3" y1="237" x2="301.2" y2="237" stroke="#111" stroke-width="1.1"/>
<text x="385.6" y="353.7" font-family='"Liberation Sans", Arial, Helvetica, sans-serif' font-size="13" font-weight="bold" text-anchor="middle" fill="#111" stroke="#111" stroke-width="0.2">Intensity(MW/cm<tspan font-size="7.5" dy="-5.2">2</tspan><tspan dy="5.2">)</tspan></text>
<text transform="translate(277.2 269.5) rotate(-90)" font-family='"Liberation Sans", Arial, Helvetica, sans-serif' font-size="13.2" font-weight="bold" text-anchor="middle" fill="#111" stroke="#111" stroke-width="0.2">Transmission(%)</text>
<text x="246.4" y="207" font-family='"Liberation Sans", Arial, Helvetica, sans-serif' font-size="13.6" font-weight="bold" fill="#111">(e)</text>
<circle cx="309.5" cy="217" r="2.85" fill="url(#ball)"/>
<text x="319.2" y="219.4" font-family='"Liberation Sans", Arial, Helvetica, sans-serif' font-size="7.05" font-weight="bold" fill="#1a1a1a" stroke="#1a1a1a" stroke-width="0.15">Experiment Data</text>
<line x1="394.8" y1="217.5" x2="406.8" y2="217.5" stroke="#c8232c" stroke-width="1.5"/>
<text x="408.4" y="219.9" font-family='"Liberation Sans", Arial, Helvetica, sans-serif' font-size="7.05" font-weight="bold" fill="#1a1a1a" stroke="#1a1a1a" stroke-width="0.15">Fitting Curve</text>
<text x="308.4" y="239" font-size="9.7" font-weight="bold" fill="#cb2731" stroke="#cb2731" stroke-width="0.2"><tspan font-family='"Liberation Serif", "Times New Roman", serif' font-size="10.48">I</tspan><tspan font-family='"Liberation Sans", Arial, Helvetica, sans-serif' font-size="5.92" dy="2.3">sat</tspan><tspan font-family='"Liberation Sans", Arial, Helvetica, sans-serif' dy="-2.3">=1.3MW/cm<tspan font-size="6.01" dy="-3.6">2</tspan></tspan></text>
<text x="308.4" y="258.2" font-size="9.7" font-weight="bold" fill="#cb2731" stroke="#cb2731" stroke-width="0.2"><tspan font-family='"Liberation Sans", Arial, Helvetica, sans-serif' font-size="9.89">α</tspan><tspan font-family='"Liberation Sans", Arial, Helvetica, sans-serif' font-size="5.92" dy="2.3">s</tspan><tspan font-family='"Liberation Sans", Arial, Helvetica, sans-serif' dy="-2.3"> =36.9%</tspan></text>
<text x="308.4" y="276.8" font-size="9.7" font-weight="bold" fill="#cb2731" stroke="#cb2731" stroke-width="0.2"><tspan font-family='"Liberation Sans", Arial, Helvetica, sans-serif' font-size="9.89">α</tspan><tspan font-family='"Liberation Sans", Arial, Helvetica, sans-serif' font-size="5.92" dy="2.3">ns</tspan><tspan font-family='"Liberation Sans", Arial, Helvetica, sans-serif' dy="-2.3">=4.3%</tspan></text>
<line x1="532.6" y1="231.5" x2="691.3" y2="231.5" stroke="#e8923c" stroke-width="1.15" stroke-dasharray="4.6 3.9"/>
<line x1="532.6" y1="320.2" x2="691.3" y2="320.2" stroke="#e8923c" stroke-width="1.15" stroke-dasharray="4.6 3.9"/>
<line x1="676.8" y1="231.5" x2="676.8" y2="261.8" stroke="#5ee04a" stroke-width="1.1"/>
<polygon points="675.2,259 678.4,259 676.8,263.8" fill="#35cc2e"/>
<line x1="676.8" y1="320.2" x2="676.8" y2="289" stroke="#5ee04a" stroke-width="1.1"/>
<polygon points="675.2,291.8 678.4,291.8 676.8,287" fill="#35cc2e"/>
<text x="675.3" y="279" font-family='"Liberation Sans", Arial, Helvetica, sans-serif' font-size="10.1" font-weight="bold" text-anchor="middle" fill="#111" stroke="#111" stroke-width="0.2">31.5%</text>
<circle cx="584.1" cy="279" r="2.75" fill="url(#ball)" stroke="#3a0a6a" stroke-width="0.35"/>
<circle cx="594.2" cy="266.6" r="2.75" fill="url(#ball)" stroke="#3a0a6a" stroke-width="0.35"/>
<circle cx="601" cy="256.2" r="2.75" fill="url(#ball)" stroke="#3a0a6a" stroke-width="0.35"/>
<circle cx="605.2" cy="251.7" r="2.75" fill="url(#ball)" stroke="#3a0a6a" stroke-width="0.35"/>
<circle cx="609.5" cy="249.4" r="2.75" fill="url(#ball)" stroke="#3a0a6a" stroke-width="0.35"/>
<circle cx="611.4" cy="244.2" r="2.75" fill="url(#ball)" stroke="#3a0a6a" stroke-width="0.35"/>
<circle cx="615.3" cy="240.3" r="2.75" fill="url(#ball)" stroke="#3a0a6a" stroke-width="0.35"/>
<circle cx="618" cy="238.6" r="2.75" fill="url(#ball)" stroke="#3a0a6a" stroke-width="0.35"/>
<circle cx="620.5" cy="236.7" r="2.75" fill="url(#ball)" stroke="#3a0a6a" stroke-width="0.35"/>
<circle cx="623.8" cy="235.2" r="2.75" fill="url(#ball)" stroke="#3a0a6a" stroke-width="0.35"/>
<circle cx="627" cy="233.8" r="2.75" fill="url(#ball)" stroke="#3a0a6a" stroke-width="0.35"/>
<circle cx="630.9" cy="233.1" r="2.75" fill="url(#ball)" stroke="#3a0a6a" stroke-width="0.35"/>
<circle cx="633.7" cy="233.3" r="2.75" fill="url(#ball)" stroke="#3a0a6a" stroke-width="0.35"/>
<circle cx="636.5" cy="232.79" r="2.75" fill="url(#ball)" stroke="#3a0a6a" stroke-width="0.35"/>
<circle cx="639.3" cy="233.03" r="2.75" fill="url(#ball)" stroke="#3a0a6a" stroke-width="0.35"/>
<circle cx="642.1" cy="232.58" r="2.75" fill="url(#ball)" stroke="#3a0a6a" stroke-width="0.35"/>
<circle cx="644.9" cy="232.56" r="2.75" fill="url(#ball)" stroke="#3a0a6a" stroke-width="0.35"/>
<circle cx="647.7" cy="232.5" r="2.75" fill="url(#ball)" stroke="#3a0a6a" stroke-width="0.35"/>
<circle cx="650.5" cy="232.25" r="2.75" fill="url(#ball)" stroke="#3a0a6a" stroke-width="0.35"/>
<circle cx="653.3" cy="232.22" r="2.75" fill="url(#ball)" stroke="#3a0a6a" stroke-width="0.35"/>
<circle cx="656.1" cy="231.75" r="2.75" fill="url(#ball)" stroke="#3a0a6a" stroke-width="0.35"/>
<circle cx="658.9" cy="231.87" r="2.75" fill="url(#ball)" stroke="#3a0a6a" stroke-width="0.35"/>
<circle cx="661.7" cy="231.57" r="2.75" fill="url(#ball)" stroke="#3a0a6a" stroke-width="0.35"/>
<path d="M532.6 319.43 L533.1 319.38 L533.6 319.31 L534.1 319.25 L534.6 319.17 L535.1 319.09 L535.6 319.01 L536.1 318.92 L536.6 318.83 L537.1 318.73 L537.6 318.63 L538.1 318.53 L538.6 318.43 L539.1 318.32 L539.6 318.21 L540.1 318.11 L540.6 318 L541.1 317.89 L541.6 317.77 L542.1 317.66 L542.6 317.54 L543.1 317.43 L543.6 317.31 L544.1 317.18 L544.6 317.05 L545.1 316.92 L545.6 316.79 L546.1 316.65 L546.6 316.51 L547.1 316.36 L547.6 316.21 L548.1 316.05 L548.6 315.88 L549.1 315.72 L549.6 315.54 L550.1 315.37 L550.6 315.18 L551.1 315 L551.6 314.8 L552.1 314.61 L552.6 314.4 L553.1 314.2 L553.6 313.99 L554.1 313.77 L554.6 313.55 L555.1 313.32 L555.6 313.08 L556.1 312.84 L556.6 312.59 L557.1 312.33 L557.6 312.07 L558.1 311.79 L558.6 311.51 L559.1 311.21 L559.6 310.9 L560.1 310.58 L560.6 310.25 L561.1 309.91 L561.6 309.56 L562.1 309.19 L562.6 308.8 L563.1 308.41 L563.6 308 L564.1 307.57 L564.6 307.14 L565.1 306.69 L565.6 306.23 L566.1 305.76 L566.6 305.27 L567.1 304.78 L567.6 304.28 L568.1 303.78 L568.6 303.26 L569.1 302.74 L569.6 302.21 L570.1 301.68 L570.6 301.14 L571.1 300.59 L571.6 300.04 L572.1 299.48 L572.6 298.91 L573.1 298.34 L573.6 297.76 L574.1 297.17 L574.6 296.57 L575.1 295.97 L575.6 295.35 L576.1 294.73 L576.6 294.1 L577.1 293.46 L577.6 292.82 L578.1 292.17 L578.6 291.52 L579.1 290.86 L579.6 290.2 L580.1 289.53 L580.6 288.86 L581.1 288.19 L581.6 287.51 L582.1 286.82 L582.6 286.13 L583.1 285.44 L583.6 284.74 L584.1 284.03 L584.6 283.31 L585.1 282.59 L585.6 281.86 L586.1 281.11 L586.6 280.37 L587.1 279.61 L587.6 278.84 L588.1 278.07 L588.6 277.29 L589.1 276.51 L589.6 275.72 L590.1 274.92 L590.6 274.13 L591.1 273.33 L591.6 272.53 L592.1 271.73 L592.6 270.93 L593.1 270.13 L593.6 269.34 L594.1 268.55 L594.6 267.76 L595.1 266.98 L595.6 266.21 L596.1 265.44 L596.6 264.68 L597.1 263.94 L597.6 263.2 L598.1 262.47 L598.6 261.75 L599.1 261.04 L599.6 260.34 L600.1 259.65 L600.6 258.98 L601.1 258.32 L601.6 257.66 L602.1 257.02 L602.6 256.39 L603.1 255.78 L603.6 255.17 L604.1 254.57 L604.6 253.98 L605.1 253.41 L605.6 252.84 L606.1 252.28 L606.6 251.73 L607.1 251.19 L607.6 250.66 L608.1 250.14 L608.6 249.62 L609.1 249.12 L609.6 248.62 L610.1 248.13 L610.6 247.64 L611.1 247.17 L611.6 246.7 L612.1 246.24 L612.6 245.79 L613.1 245.34 L613.6 244.9 L614.1 244.46 L614.6 244.03 L615.1 243.61 L615.6 243.19 L616.1 242.77 L616.6 242.35 L617.1 241.94 L617.6 241.53 L618.1 241.12 L618.6 240.72 L619.1 240.33 L619.6 239.94 L620.1 239.56 L620.6 239.19 L621.1 238.83 L621.6 238.48 L622.1 238.14 L622.6 237.81 L623.1 237.49 L623.6 237.19 L624.1 236.9 L624.6 236.62 L625.1 236.35 L625.6 236.1 L626.1 235.86 L626.6 235.63 L627.1 235.42 L627.6 235.22 L628.1 235.03 L628.6 234.85 L629.1 234.68 L629.6 234.52 L630.1 234.38 L630.6 234.24 L631.1 234.11 L631.6 233.99 L632.1 233.88 L632.6 233.78 L633.1 233.68 L633.6 233.59 L634.1 233.51 L634.6 233.43 L635.1 233.36 L635.6 233.29 L636.1 233.23 L636.6 233.17 L637.1 233.11 L637.6 233.06 L638.1 233.01 L638.6 232.96 L639.1 232.91 L639.6 232.87 L640.1 232.82 L640.6 232.78 L641.1 232.74 L641.6 232.71 L642.1 232.67 L642.6 232.64 L643.1 232.6 L643.6 232.57 L644.1 232.54 L644.6 232.51 L645.1 232.48 L645.6 232.45 L646.1 232.42 L646.6 232.39 L647.1 232.36 L647.6 232.33 L648.1 232.3 L648.6 232.27 L649.1 232.25 L649.6 232.22 L650.1 232.19 L650.6 232.16 L651.1 232.14 L651.6 232.11 L652.1 232.08 L652.6 232.06 L653.1 232.03 L653.6 232 L654.1 231.98 L654.6 231.95 L655.1 231.93 L655.6 231.9 L656.1 231.88 L656.6 231.85 L657.1 231.83 L657.6 231.81 L658.1 231.79 L658.6 231.77 L659.1 231.75 L659.6 231.73 L660.1 231.71 L660.6 231.7 L661.1 231.68 L661.6 231.66 L662.1 231.65 L662.6 231.64 L663.1 231.62 L663.6 231.61 L664.1 231.6 L664.6 231.59 L665.1 231.58 L665.6 231.57 L666.1 231.56 L666.6 231.55 L667.1 231.54 L667.6 231.54 L668.1 231.53 L668.6 231.52 L669.1 231.52 L669.6 231.52 L670.1 231.51 L670.6 231.51 L671.1 231.51 L671.6 231.51 L672.1 231.5 L672.6 231.5 L673.1 231.5 L673.6 231.5 L674.1 231.5 L674.6 231.5 L675.1 231.5 L675.6 231.5 L676.1 231.5 L676.6 231.5 L677.1 231.5 L677.6 231.5 L678.1 231.5 L678.6 231.5 L679.1 231.5 L679.6 231.5 L680.1 231.5 L680.6 231.5 L681.1 231.5 L681.6 231.5 L682.1 231.5 L682.6 231.5 L683.1 231.5 L683.6 231.5 L684.1 231.5 L684.6 231.5 L685.1 231.5 L685.6 231.5 L686.1 231.5 L686.6 231.5 L687.1 231.5 L687.6 231.5 L688.1 231.5 L688.6 231.5 L689.1 231.5 L689.6 231.5 L690.1 231.5 L690.6 231.5 L691.1 231.5" fill="none" stroke="#c8232c" stroke-width="1.45"/>
<rect x="532.6" y="208" width="158.7" height="117.9" fill="none" stroke="#1c1c1c" stroke-width="1.35"/>
<line x1="532.5" y1="325.9" x2="532.5" y2="328.8" stroke="#111" stroke-width="1.1"/>
<line x1="542.49" y1="325.9" x2="542.49" y2="327.6" stroke="#111" stroke-width="0.8"/>
<line x1="548.34" y1="325.9" x2="548.34" y2="327.6" stroke="#111" stroke-width="0.8"/>
<line x1="552.49" y1="325.9" x2="552.49" y2="327.6" stroke="#111" stroke-width="0.8"/>
<line x1="555.71" y1="325.9" x2="555.71" y2="327.6" stroke="#111" stroke-width="0.8"/>
<line x1="558.33" y1="325.9" x2="558.33" y2="327.6" stroke="#111" stroke-width="0.8"/>
<line x1="560.56" y1="325.9" x2="560.56" y2="327.6" stroke="#111" stroke-width="0.8"/>
<line x1="562.48" y1="325.9" x2="562.48" y2="327.6" stroke="#111" stroke-width="0.8"/>
<line x1="564.18" y1="325.9" x2="564.18" y2="327.6" stroke="#111" stroke-width="0.8"/>
<line x1="565.7" y1="325.9" x2="565.7" y2="328.8" stroke="#111" stroke-width="1.1"/>
<line x1="575.69" y1="325.9" x2="575.69" y2="327.6" stroke="#111" stroke-width="0.8"/>
<line x1="581.54" y1="325.9" x2="581.54" y2="327.6" stroke="#111" stroke-width="0.8"/>
<line x1="585.69" y1="325.9" x2="585.69" y2="327.6" stroke="#111" stroke-width="0.8"/>
<line x1="588.91" y1="325.9" x2="588.91" y2="327.6" stroke="#111" stroke-width="0.8"/>
<line x1="591.53" y1="325.9" x2="591.53" y2="327.6" stroke="#111" stroke-width="0.8"/>
<line x1="593.76" y1="325.9" x2="593.76" y2="327.6" stroke="#111" stroke-width="0.8"/>
<line x1="595.68" y1="325.9" x2="595.68" y2="327.6" stroke="#111" stroke-width="0.8"/>
<line x1="597.38" y1="325.9" x2="597.38" y2="327.6" stroke="#111" stroke-width="0.8"/>
<line x1="598.9" y1="325.9" x2="598.9" y2="328.8" stroke="#111" stroke-width="1.1"/>
<line x1="608.89" y1="325.9" x2="608.89" y2="327.6" stroke="#111" stroke-width="0.8"/>
<line x1="614.74" y1="325.9" x2="614.74" y2="327.6" stroke="#111" stroke-width="0.8"/>
<line x1="618.89" y1="325.9" x2="618.89" y2="327.6" stroke="#111" stroke-width="0.8"/>
<line x1="622.11" y1="325.9" x2="622.11" y2="327.6" stroke="#111" stroke-width="0.8"/>
<line x1="624.73" y1="325.9" x2="624.73" y2="327.6" stroke="#111" stroke-width="0.8"/>
<line x1="626.96" y1="325.9" x2="626.96" y2="327.6" stroke="#111" stroke-width="0.8"/>
<line x1="628.88" y1="325.9" x2="628.88" y2="327.6" stroke="#111" stroke-width="0.8"/>
<line x1="630.58" y1="325.9" x2="630.58" y2="327.6" stroke="#111" stroke-width="0.8"/>
<line x1="632.1" y1="325.9" x2="632.1" y2="328.8" stroke="#111" stroke-width="1.1"/>
<line x1="642.09" y1="325.9" x2="642.09" y2="327.6" stroke="#111" stroke-width="0.8"/>
<line x1="647.94" y1="325.9" x2="647.94" y2="327.6" stroke="#111" stroke-width="0.8"/>
<line x1="652.09" y1="325.9" x2="652.09" y2="327.6" stroke="#111" stroke-width="0.8"/>
<line x1="655.31" y1="325.9" x2="655.31" y2="327.6" stroke="#111" stroke-width="0.8"/>
<line x1="657.93" y1="325.9" x2="657.93" y2="327.6" stroke="#111" stroke-width="0.8"/>
<line x1="660.16" y1="325.9" x2="660.16" y2="327.6" stroke="#111" stroke-width="0.8"/>
<line x1="662.08" y1="325.9" x2="662.08" y2="327.6" stroke="#111" stroke-width="0.8"/>
<line x1="663.78" y1="325.9" x2="663.78" y2="327.6" stroke="#111" stroke-width="0.8"/>
<line x1="665.3" y1="325.9" x2="665.3" y2="328.8" stroke="#111" stroke-width="1.1"/>
<line x1="675.29" y1="325.9" x2="675.29" y2="327.6" stroke="#111" stroke-width="0.8"/>
<line x1="681.14" y1="325.9" x2="681.14" y2="327.6" stroke="#111" stroke-width="0.8"/>
<line x1="685.29" y1="325.9" x2="685.29" y2="327.6" stroke="#111" stroke-width="0.8"/>
<line x1="688.51" y1="325.9" x2="688.51" y2="327.6" stroke="#111" stroke-width="0.8"/>
<line x1="691.13" y1="325.9" x2="691.13" y2="327.6" stroke="#111" stroke-width="0.8"/>
<text x="532.5" y="337.4" font-family='"Liberation Sans", Arial, Helvetica, sans-serif' font-size="9.7" font-weight="bold" text-anchor="middle" fill="#111" stroke="#111" stroke-width="0.2">0.01</text>
<text x="565.7" y="337.4" font-family='"Liberation Sans", Arial, Helvetica, sans-serif' font-size="9.7" font-weight="bold" text-anchor="middle" fill="#111" stroke="#111" stroke-width="0.2">0.1</text>
<text x="598.9" y="337.4" font-family='"Liberation Sans", Arial, Helvetica, sans-serif' font-size="9.7" font-weight="bold" text-anchor="middle" fill="#111" stroke="#111" stroke-width="0.2">1</text>
<text x="632.1" y="337.4" font-family='"Liberation Sans", Arial, Helvetica, sans-serif' font-size="9.7" font-weight="bold" text-anchor="middle" fill="#111" stroke="#111" stroke-width="0.2">10</text>
<text x="665.3" y="337.4" font-family='"Liberation Sans", Arial, Helvetica, sans-serif' font-size="9.7" font-weight="bold" text-anchor="middle" fill="#111" stroke="#111" stroke-width="0.2">100</text>
<line x1="529.4" y1="213.7" x2="532.6" y2="213.7" stroke="#111" stroke-width="1.2"/>
<text x="528.3" y="216.9" font-family='"Liberation Sans", Arial, Helvetica, sans-serif' font-size="9.7" font-weight="bold" text-anchor="end" fill="#111" stroke="#111" stroke-width="0.2">80</text>
<line x1="529.4" y1="270.5" x2="532.6" y2="270.5" stroke="#111" stroke-width="1.2"/>
<text x="528.3" y="273.7" font-family='"Liberation Sans", Arial, Helvetica, sans-serif' font-size="9.7" font-weight="bold" text-anchor="end" fill="#111" stroke="#111" stroke-width="0.2">60</text>
<line x1="530.7" y1="298.9" x2="532.6" y2="298.9" stroke="#111" stroke-width="1.1"/>
<line x1="530.7" y1="242.1" x2="532.6" y2="242.1" stroke="#111" stroke-width="1.1"/>
<text x="614" y="351.9" font-family='"Liberation Sans", Arial, Helvetica, sans-serif' font-size="13" font-weight="bold" text-anchor="middle" fill="#111" stroke="#111" stroke-width="0.2">Intensity(MW/cm<tspan font-size="7.5" dy="-5.2">2</tspan><tspan dy="5.2">)</tspan></text>
<text transform="translate(509.6 268) rotate(-90)" font-family='"Liberation Sans", Arial, Helvetica, sans-serif' font-size="13.2" font-weight="bold" text-anchor="middle" fill="#111" stroke="#111" stroke-width="0.2">Transmission(%)</text>
<text x="474.2" y="206.8" font-family='"Liberation Sans", Arial, Helvetica, sans-serif' font-size="13.6" font-weight="bold" fill="#111">(f)</text>
<circle cx="540.5" cy="213.8" r="2.85" fill="url(#ball)"/>
<text x="550.6" y="216.2" font-family='"Liberation Sans", Arial, Helvetica, sans-serif' font-size="7.05" font-weight="bold" fill="#1a1a1a" stroke="#1a1a1a" stroke-width="0.15">Experiment Data</text>
<line x1="537.6" y1="222.2" x2="550" y2="222.2" stroke="#c8232c" stroke-width="1.5"/>
<text x="551" y="224.6" font-family='"Liberation Sans", Arial, Helvetica, sans-serif' font-size="7.05" font-weight="bold" fill="#1a1a1a" stroke="#1a1a1a" stroke-width="0.15">Fitting curve</text>
<text x="534.2" y="242.8" font-size="9.7" font-weight="bold" fill="#cb2731" stroke="#cb2731" stroke-width="0.2"><tspan font-family='"Liberation Serif", "Times New Roman", serif' font-size="10.48">I</tspan><tspan font-family='"Liberation Sans", Arial, Helvetica, sans-serif' font-size="5.92" dy="2.3">sat</tspan><tspan font-family='"Liberation Sans", Arial, Helvetica, sans-serif' dy="-2.3">=0.52MW/cm<tspan font-size="6.01" dy="-3.6">2</tspan></tspan></text>
<text x="534.2" y="262" font-size="9.7" font-weight="bold" fill="#cb2731" stroke="#cb2731" stroke-width="0.2"><tspan font-family='"Liberation Sans", Arial, Helvetica, sans-serif' font-size="9.89">α</tspan><tspan font-family='"Liberation Sans", Arial, Helvetica, sans-serif' font-size="5.92" dy="2.3">s</tspan><tspan font-family='"Liberation Sans", Arial, Helvetica, sans-serif' dy="-2.3"> =31.50%</tspan></text>
<text x="534.2" y="280.3" font-size="9.7" font-weight="bold" fill="#cb2731" stroke="#cb2731" stroke-width="0.2"><tspan font-family='"Liberation Sans", Arial, Helvetica, sans-serif' font-size="9.89">α</tspan><tspan font-family='"Liberation Sans", Arial, Helvetica, sans-serif' font-size="5.92" dy="2.3">ns</tspan><tspan font-family='"Liberation Sans", Arial, Helvetica, sans-serif' dy="-2.3">=26%</tspan></text>
<line x1="112.2" y1="443.9" x2="128.8" y2="443.9" stroke="#6fe466" stroke-width="1.5"/>
<polygon points="126.2,442.2 126.2,445.6 130.8,443.9" fill="#22c322"/>
<line x1="169.7" y1="443.9" x2="153" y2="443.9" stroke="#6fe466" stroke-width="1.5"/>
<polygon points="155.6,442.2 155.6,445.6 151,443.9" fill="#22c322"/>
<path d="M60.4 498.46 L60.93 498.53 L61.46 498.87 L61.99 498.68 L62.52 498.6 L63.05 498.63 L63.58 498.3 L64.11 498.4 L64.64 498.55 L65.17 498.77 L65.7 498.3 L66.23 498.22 L66.76 497.99 L67.29 498.47 L67.82 498.64 L68.35 498.18 L68.88 498.71 L69.41 498.99 L69.94 498.88 L70.47 498.79 L71 498.35 L71.53 497.99 L72.06 498.21 L72.59 497.94 L73.12 497.9 L73.65 497.92 L74.18 497.75 L74.71 498.02 L75.24 498.14 L75.77 498.55 L76.3 498.49 L76.83 498.56 L77.36 498.48 L77.89 498.57 L78.42 498.44 L78.95 498.22 L79.48 498.69 L80.01 498.95 L80.54 498.96 L81.07 498.85 L81.6 498.45 L82.13 498.16 L82.66 498.04 L83.19 497.79 L83.72 498.24 L84.25 498.17 L84.78 498.5 L85.31 498.29 L85.84 498.65 L86.37 498.76 L86.9 498.1 L87.43 497.9 L87.96 498.38 L88.49 498.27 L89.02 498.63 L89.55 498.34 L90.08 497.9 L90.61 498.12 L91.14 498.36 L91.67 498.06 L92.2 497.74 L92.73 497.76 L93.26 498.3 L93.79 498.42 L94.32 497.94 L94.85 497.78 L95.38 497.56 L95.91 497.4 L96.44 497.93 L96.97 497.69 L97.5 497.87 L98.03 497.87 L98.56 497.64 L99.09 497.96 L99.62 497.62 L100.15 497.86 L100.68 497.53 L101.21 497.59 L101.74 497.44 L102.27 497.39 L102.8 497.94 L103.33 498.08 L103.86 497.72 L104.39 497.99 L104.92 497.56 L105.45 497.45 L105.98 497.73 L106.51 497.66 L107.04 497.1 L107.57 497.49 L108.1 496.98 L108.63 496.66 L109.16 496.85 L109.69 496.47 L110.22 496.11 L110.75 495.59 L111.28 495.18 L111.81 495.22 L112.34 494.81 L112.87 494.74 L113.4 494.36 L113.93 494.06 L114.46 494.14 L114.99 493.6 L115.52 493.18 L116.05 492.97 L116.58 492.07 L117.11 491.32 L117.64 491.17 L118.17 490.69 L118.7 489.75 L119.23 488.86 L119.76 488.29 L120.29 487.64 L120.82 486.49 L121.35 485.62 L121.88 484.47 L122.41 483.08 L122.94 481.58 L123.47 479.97 L124 478.28 L124.53 476.57 L125.06 474.6 L125.59 472.55 L126.12 470.32 L126.65 467.87 L127.18 465.25 L127.71 462.49 L128.24 459.63 L128.77 456.64 L129.3 453.45 L129.83 450.1 L130.36 446.64 L130.89 442.96 L131.42 439.11 L131.95 434.99 L132.48 430.72 L133.01 426.56 L133.54 422.73 L134.07 419.23 L134.6 415.9 L135.13 412.59 L135.66 409.12 L136.19 405.49 L136.72 401.98 L137.25 398.86 L137.78 396.09 L138.31 393.77 L138.84 392.34 L139.37 391.25 L139.9 390.91 L140.43 391.35 L140.96 392.18 L141.49 393.21 L142.02 394.78 L142.55 396.69 L143.08 398.98 L143.61 401.69 L144.14 404.68 L144.67 407.82 L145.2 411.26 L145.73 415.06 L146.26 418.85 L146.79 422.27 L147.32 425.34 L147.85 428.29 L148.38 431.29 L148.91 434.49 L149.44 437.79 L149.97 441.02 L150.5 444.15 L151.03 447.28 L151.56 450.59 L152.09 454.03 L152.62 457.28 L153.15 460.02 L153.68 462.41 L154.21 464.62 L154.74 466.66 L155.27 468.54 L155.8 470.32 L156.33 471.99 L156.86 473.66 L157.39 475.23 L157.92 476.49 L158.45 477.85 L158.98 479.16 L159.51 480.23 L160.04 481.13 L160.57 481.77 L161.1 482.63 L161.63 483.3 L162.16 483.85 L162.69 484.69 L163.22 484.83 L163.75 485.68 L164.28 485.78 L164.81 486.54 L165.34 487.07 L165.87 487.35 L166.4 488.08 L166.93 488.49 L167.46 488.98 L167.99 489.65 L168.52 489.59 L169.05 489.49 L169.58 489.8 L170.11 490.42 L170.64 490.47 L171.17 490.59 L171.7 491.38 L172.23 491.71 L172.76 491.81 L173.29 492.34 L173.82 492.24 L174.35 492.56 L174.88 492.43 L175.41 492.63 L175.94 493.12 L176.47 493.56 L177 493.85 L177.53 493.66 L178.06 493.8 L178.59 493.72 L179.12 493.59 L179.65 493.89 L180.18 494.4 L180.71 494.75 L181.24 494.89 L181.77 495.22 L182.3 494.89 L182.83 494.67 L183.36 494.83 L183.89 494.82 L184.42 494.8 L184.95 495 L185.48 495.32 L186.01 495.41 L186.54 495.34 L187.07 495.77 L187.6 496.15 L188.13 495.95 L188.66 495.54 L189.19 495.3 L189.72 495.9 L190.25 495.55 L190.78 495.94 L191.31 496.05 L191.84 495.92 L192.37 496.27 L192.9 495.83 L193.43 495.7 L193.96 495.92 L194.49 495.69 L195.02 496.26 L195.55 496.09 L196.08 495.93 L196.61 495.78 L197.14 496.21 L197.67 496.31 L198.2 496.53 L198.73 496.69 L199.26 496.93 L199.79 497.21 L200.32 497.15 L200.85 496.73 L201.38 496.74 L201.91 496.52 L202.44 496.28 L202.97 496.55 L203.5 496.92 L204.03 496.7 L204.56 496.67 L205.09 496.73 L205.62 497.08 L206.15 497.14 L206.68 497.27 L207.21 497.47 L207.74 497.3 L208.27 497.55 L208.8 497.8 L209.33 497.27 L209.86 497.7 L210.39 497.77 L210.92 497.33 L211.45 497.37 L211.98 497.54 L212.51 497.89 L213.04 497.65 L213.57 497.68 L214.1 497.98 L214.63 498.08 L215.16 498.27 L215.69 497.98 L216.22 497.99 L216.75 497.62 L217.28 497.87 L217.81 498.09 L218.34 498.07 L218.87 498.13 L219.4 497.75" fill="none" stroke="#c2232c" stroke-width="1.45" stroke-linejoin="round"/>
<rect x="60.4" y="384.9" width="159" height="117.6" fill="none" stroke="#1c1c1c" stroke-width="1.35"/>
<line x1="60.4" y1="502.5" x2="60.4" y2="505.3" stroke="#1c1c1c" stroke-width="1"/>
<line x1="80.28" y1="502.5" x2="80.28" y2="504.1" stroke="#1c1c1c" stroke-width="1"/>
<line x1="100.15" y1="502.5" x2="100.15" y2="505.3" stroke="#1c1c1c" stroke-width="1"/>
<line x1="120.03" y1="502.5" x2="120.03" y2="504.1" stroke="#1c1c1c" stroke-width="1"/>
<line x1="139.9" y1="502.5" x2="139.9" y2="505.3" stroke="#1c1c1c" stroke-width="1"/>
<line x1="159.78" y1="502.5" x2="159.78" y2="504.1" stroke="#1c1c1c" stroke-width="1"/>
<line x1="179.65" y1="502.5" x2="179.65" y2="505.3" stroke="#1c1c1c" stroke-width="1"/>
<line x1="199.53" y1="502.5" x2="199.53" y2="504.1" stroke="#1c1c1c" stroke-width="1"/>
<line x1="219.4" y1="502.5" x2="219.4" y2="505.3" stroke="#1c1c1c" stroke-width="1"/>
<text x="59.5" y="513.7" font-family='"Liberation Sans", Arial, Helvetica, sans-serif' font-size="8.6" font-weight="bold" text-anchor="middle" fill="#111" stroke="#111" stroke-width="0.2">-2</text>
<text x="99.25" y="513.7" font-family='"Liberation Sans", Arial, Helvetica, sans-serif' font-size="8.6" font-weight="bold" text-anchor="middle" fill="#111" stroke="#111" stroke-width="0.2">-1</text>
<text x="139.9" y="513.7" font-family='"Liberation Sans", Arial, Helvetica, sans-serif' font-size="8.6" font-weight="bold" text-anchor="middle" fill="#111" stroke="#111" stroke-width="0.2">0</text>
<text x="179.65" y="513.7" font-family='"Liberation Sans", Arial, Helvetica, sans-serif' font-size="8.6" font-weight="bold" text-anchor="middle" fill="#111" stroke="#111" stroke-width="0.2">1</text>
<text x="219.4" y="513.7" font-family='"Liberation Sans", Arial, Helvetica, sans-serif' font-size="8.6" font-weight="bold" text-anchor="middle" fill="#111" stroke="#111" stroke-width="0.2">2</text>
<line x1="57.2" y1="384.9" x2="60.4" y2="384.9" stroke="#111" stroke-width="1.2"/>
<text x="56.2" y="387.9" font-family='"Liberation Sans", Arial, Helvetica, sans-serif' font-size="8.6" font-weight="bold" text-anchor="end" fill="#111" stroke="#111" stroke-width="0.2">1.0</text>
<line x1="57.2" y1="443.7" x2="60.4" y2="443.7" stroke="#111" stroke-width="1.2"/>
<text x="56.2" y="446.7" font-family='"Liberation Sans", Arial, Helvetica, sans-serif' font-size="8.6" font-weight="bold" text-anchor="end" fill="#111" stroke="#111" stroke-width="0.2">0.5</text>
<line x1="57.2" y1="502.5" x2="60.4" y2="502.5" stroke="#111" stroke-width="1.2"/>
<text x="56.2" y="505.5" font-family='"Liberation Sans", Arial, Helvetica, sans-serif' font-size="8.6" font-weight="bold" text-anchor="end" fill="#111" stroke="#111" stroke-width="0.2">0.0</text>
<line x1="58.8" y1="473.1" x2="60.4" y2="473.1" stroke="#1c1c1c" stroke-width="0.9"/>
<line x1="58.8" y1="414.3" x2="60.4" y2="414.3" stroke="#1c1c1c" stroke-width="0.9"/>
<text x="117.5" y="525.7" font-family='"Liberation Sans", Arial, Helvetica, sans-serif' font-size="11.7" font-weight="bold" fill="#111" stroke="#111" stroke-width="0.2">Time(<tspan font-family='"Liberation Serif", "Times New Roman", serif' font-weight="bold" font-size="12.2">μ</tspan>s)</text>
<text transform="translate(38.8 435) rotate(-90)" font-family='"Liberation Sans", Arial, Helvetica, sans-serif' font-size="11.3" font-weight="bold" text-anchor="middle" fill="#111" stroke="#111" stroke-width="0.2">Intensity(a.u.)</text>
<text x="13.6" y="372.4" font-family='"Liberation Sans", Arial, Helvetica, sans-serif' font-size="13.2" font-weight="bold" fill="#111">(h)</text>
<text x="158.8" y="431.8" font-family='"Liberation Sans", Arial, Helvetica, sans-serif' font-size="10.3" font-weight="bold" fill="#111" stroke="#111" stroke-width="0.2"><tspan font-family='"Liberation Serif", "Times New Roman", serif' font-size="12.4">τ</tspan>=484.7<tspan font-size="11.1">ns</tspan></text>
<line x1="352.6" y1="443.9" x2="369.1" y2="443.9" stroke="#6fe466" stroke-width="1.5"/>
<polygon points="366.5,442.2 366.5,445.6 371.1,443.9" fill="#22c322"/>
<line x1="411" y1="443.9" x2="394.4" y2="443.9" stroke="#6fe466" stroke-width="1.5"/>
<polygon points="397,442.2 397,445.6 392.4,443.9" fill="#22c322"/>
<path d="M301.7 495.71 L302.23 495.3 L302.75 495 L303.28 495.69 L303.81 495.41 L304.33 495.23 L304.86 495.6 L305.39 495.57 L305.91 496.04 L306.44 495.76 L306.97 496.25 L307.49 496 L308.02 496.12 L308.55 496.48 L309.07 496.49 L309.6 496.71 L310.13 496.67 L310.65 496.11 L311.18 496.51 L311.71 496.5 L312.23 496.27 L312.76 496.06 L313.29 496.51 L313.81 496.54 L314.34 496.87 L314.87 496.92 L315.39 497.12 L315.92 496.91 L316.45 496.91 L316.97 496.85 L317.5 496.53 L318.03 496.95 L318.55 496.65 L319.08 496.89 L319.61 497.18 L320.13 497.09 L320.66 496.63 L321.19 496.96 L321.71 497.02 L322.24 496.66 L322.77 496.36 L323.29 496.62 L323.82 496.35 L324.35 496.97 L324.87 496.97 L325.4 497 L325.93 496.93 L326.45 497.12 L326.98 497.45 L327.51 497.13 L328.03 497.02 L328.56 497.14 L329.09 496.98 L329.61 497.15 L330.14 497.2 L330.67 497.14 L331.19 497.32 L331.72 497.29 L332.25 496.9 L332.77 497.45 L333.3 497.21 L333.83 497.13 L334.35 497.05 L334.88 497.43 L335.41 497.64 L335.93 497.38 L336.46 497.11 L336.99 496.69 L337.51 497.11 L338.04 496.71 L338.57 496.78 L339.09 496.63 L339.62 496.51 L340.15 496.43 L340.67 496.23 L341.2 495.96 L341.73 496.21 L342.25 496.54 L342.78 496.57 L343.31 496.19 L343.83 496.37 L344.36 495.91 L344.89 495.94 L345.41 496.28 L345.94 496.52 L346.47 496.25 L346.99 496.39 L347.52 496.15 L348.05 496.01 L348.57 495.95 L349.1 496.23 L349.63 496.13 L350.15 495.81 L350.68 495.8 L351.21 495.68 L351.73 495.31 L352.26 495.39 L352.79 495.36 L353.31 495.05 L353.84 495.03 L354.37 494.1 L354.89 493.84 L355.42 493.66 L355.95 493.14 L356.47 492.54 L357 492.46 L357.53 491.97 L358.05 491.31 L358.58 490.52 L359.11 490.41 L359.63 489.58 L360.16 488.63 L360.69 487.78 L361.21 486.83 L361.74 485.98 L362.27 484.54 L362.79 483.12 L363.32 481.58 L363.85 480.13 L364.37 478.57 L364.9 477 L365.43 475.38 L365.95 473.61 L366.48 471.66 L367.01 469.57 L367.53 467.33 L368.06 464.88 L368.59 462.25 L369.11 459.44 L369.64 456.37 L370.17 453.09 L370.69 449.69 L371.22 446.16 L371.75 442.46 L372.27 438.81 L372.8 435.23 L373.33 431.66 L373.85 428.11 L374.38 424.56 L374.91 421 L375.43 417.42 L375.96 413.85 L376.49 410.34 L377.01 406.82 L377.54 403.21 L378.07 399.83 L378.59 397.03 L379.12 394.76 L379.65 392.97 L380.17 391.79 L380.7 390.87 L381.23 390.62 L381.75 391.05 L382.28 391.77 L382.81 392.81 L383.33 394.29 L383.86 396.2 L384.39 398.66 L384.91 401.43 L385.44 404.53 L385.97 408.11 L386.49 411.87 L387.02 415.51 L387.55 419.08 L388.07 422.65 L388.6 426.23 L389.13 429.87 L389.65 433.6 L390.18 437.26 L390.71 440.66 L391.23 443.8 L391.76 446.72 L392.29 449.58 L392.81 452.37 L393.34 455.03 L393.87 457.49 L394.39 459.67 L394.92 461.65 L395.45 463.52 L395.97 465.28 L396.5 466.93 L397.03 468.39 L397.55 469.78 L398.08 470.97 L398.61 472.11 L399.13 473.18 L399.66 474.32 L400.19 475.32 L400.71 476.39 L401.24 477.59 L401.77 478.16 L402.29 479 L402.82 479.98 L403.35 480.68 L403.87 481.3 L404.4 482.1 L404.93 482.19 L405.45 483.22 L405.98 483.76 L406.51 484.32 L407.03 484.76 L407.56 484.5 L408.09 484.44 L408.61 484.6 L409.14 485.06 L409.67 485.76 L410.19 486.2 L410.72 486.1 L411.25 486.3 L411.77 486.59 L412.3 486.48 L412.83 487.04 L413.35 487.41 L413.88 487.52 L414.41 487.81 L414.93 487.97 L415.46 488.01 L415.99 487.84 L416.51 487.78 L417.04 487.8 L417.57 487.73 L418.09 488.51 L418.62 488.49 L419.15 488.33 L419.67 488.57 L420.2 488.61 L420.73 489.02 L421.25 489.26 L421.78 489.36 L422.31 489.78 L422.83 490.06 L423.36 490.26 L423.89 490.85 L424.41 490.83 L424.94 491.09 L425.47 491.58 L425.99 491.97 L426.52 491.72 L427.05 491.34 L427.57 491.93 L428.1 491.92 L428.63 491.69 L429.15 491.52 L429.68 491.54 L430.21 491.64 L430.73 491.57 L431.26 491.48 L431.79 492.25 L432.31 492.55 L432.84 492.15 L433.37 492.26 L433.89 492.62 L434.42 492.59 L434.95 492.24 L435.47 492.31 L436 492.42 L436.53 492.95 L437.05 493.01 L437.58 492.97 L438.11 493.12 L438.63 492.75 L439.16 493.12 L439.69 493.46 L440.21 493.57 L440.74 493.4 L441.27 493.28 L441.79 493.02 L442.32 492.97 L442.85 493.03 L443.37 493.35 L443.9 493.83 L444.43 493.67 L444.95 493.82 L445.48 494.08 L446.01 494.26 L446.53 493.88 L447.06 494.46 L447.59 494.54 L448.11 494.37 L448.64 494.26 L449.17 494.61 L449.69 495.03 L450.22 494.79 L450.75 494.73 L451.27 494.85 L451.8 494.62 L452.33 494.69 L452.85 495.18 L453.38 495.16 L453.91 495.39 L454.43 495.06 L454.96 495.41 L455.49 495.54 L456.01 495.15 L456.54 495.21 L457.07 495.38 L457.59 495.39 L458.12 495.42 L458.65 495.15 L459.17 495.26 L459.7 495.16" fill="none" stroke="#c2232c" stroke-width="1.45" stroke-linejoin="round"/>
<rect x="301.7" y="384.9" width="158" height="117.6" fill="none" stroke="#1c1c1c" stroke-width="1.35"/>
<line x1="301.7" y1="502.5" x2="301.7" y2="505.3" stroke="#1c1c1c" stroke-width="1"/>
<line x1="321.45" y1="502.5" x2="321.45" y2="504.1" stroke="#1c1c1c" stroke-width="1"/>
<line x1="341.2" y1="502.5" x2="341.2" y2="505.3" stroke="#1c1c1c" stroke-width="1"/>
<line x1="360.95" y1="502.5" x2="360.95" y2="504.1" stroke="#1c1c1c" stroke-width="1"/>
<line x1="380.7" y1="502.5" x2="380.7" y2="505.3" stroke="#1c1c1c" stroke-width="1"/>
<line x1="400.45" y1="502.5" x2="400.45" y2="504.1" stroke="#1c1c1c" stroke-width="1"/>
<line x1="420.2" y1="502.5" x2="420.2" y2="505.3" stroke="#1c1c1c" stroke-width="1"/>
<line x1="439.95" y1="502.5" x2="439.95" y2="504.1" stroke="#1c1c1c" stroke-width="1"/>
<line x1="459.7" y1="502.5" x2="459.7" y2="505.3" stroke="#1c1c1c" stroke-width="1"/>
<text x="300.8" y="513.7" font-family='"Liberation Sans", Arial, Helvetica, sans-serif' font-size="8.6" font-weight="bold" text-anchor="middle" fill="#111" stroke="#111" stroke-width="0.2">-2</text>
<text x="340.3" y="513.7" font-family='"Liberation Sans", Arial, Helvetica, sans-serif' font-size="8.6" font-weight="bold" text-anchor="middle" fill="#111" stroke="#111" stroke-width="0.2">-1</text>
<text x="380.7" y="513.7" font-family='"Liberation Sans", Arial, Helvetica, sans-serif' font-size="8.6" font-weight="bold" text-anchor="middle" fill="#111" stroke="#111" stroke-width="0.2">0</text>
<text x="420.2" y="513.7" font-family='"Liberation Sans", Arial, Helvetica, sans-serif' font-size="8.6" font-weight="bold" text-anchor="middle" fill="#111" stroke="#111" stroke-width="0.2">1</text>
<text x="459.7" y="513.7" font-family='"Liberation Sans", Arial, Helvetica, sans-serif' font-size="8.6" font-weight="bold" text-anchor="middle" fill="#111" stroke="#111" stroke-width="0.2">2</text>
<line x1="298.5" y1="384.9" x2="301.7" y2="384.9" stroke="#111" stroke-width="1.2"/>
<text x="297.5" y="387.9" font-family='"Liberation Sans", Arial, Helvetica, sans-serif' font-size="8.6" font-weight="bold" text-anchor="end" fill="#111" stroke="#111" stroke-width="0.2">1.0</text>
<line x1="298.5" y1="443.7" x2="301.7" y2="443.7" stroke="#111" stroke-width="1.2"/>
<text x="297.5" y="446.7" font-family='"Liberation Sans", Arial, Helvetica, sans-serif' font-size="8.6" font-weight="bold" text-anchor="end" fill="#111" stroke="#111" stroke-width="0.2">0.5</text>
<line x1="298.5" y1="502.5" x2="301.7" y2="502.5" stroke="#111" stroke-width="1.2"/>
<text x="297.5" y="505.5" font-family='"Liberation Sans", Arial, Helvetica, sans-serif' font-size="8.6" font-weight="bold" text-anchor="end" fill="#111" stroke="#111" stroke-width="0.2">0.0</text>
<line x1="300.1" y1="473.1" x2="301.7" y2="473.1" stroke="#1c1c1c" stroke-width="0.9"/>
<line x1="300.1" y1="414.3" x2="301.7" y2="414.3" stroke="#1c1c1c" stroke-width="0.9"/>
<text x="356.6" y="525.7" font-family='"Liberation Sans", Arial, Helvetica, sans-serif' font-size="11.7" font-weight="bold" fill="#111" stroke="#111" stroke-width="0.2">Time(<tspan font-family='"Liberation Serif", "Times New Roman", serif' font-weight="bold" font-size="12.2">μ</tspan>s)</text>
<text transform="translate(279.8 435) rotate(-90)" font-family='"Liberation Sans", Arial, Helvetica, sans-serif' font-size="11.3" font-weight="bold" text-anchor="middle" fill="#111" stroke="#111" stroke-width="0.2">Intensity(a.u.)</text>
<text x="246.6" y="378" font-family='"Liberation Sans", Arial, Helvetica, sans-serif' font-size="13.2" font-weight="bold" fill="#111">(i)</text>
<text x="395" y="433" font-family='"Liberation Serif", "Times New Roman", serif' font-size="11.1" font-weight="bold" fill="#111" stroke="#111" stroke-width="0.15"><tspan font-size="12">τ</tspan><tspan font-size="7" fill="#555" stroke="none">=</tspan>492.6<tspan dx="3.2" font-family='"Liberation Sans", Arial, Helvetica, sans-serif' font-size="11.4">ns</tspan></text>
<line x1="581.6" y1="443.5" x2="598.2" y2="443.5" stroke="#6fe466" stroke-width="1.5"/>
<polygon points="595.6,441.8 595.6,445.2 600.2,443.5" fill="#22c322"/>
<line x1="639.7" y1="443.5" x2="623.7" y2="443.5" stroke="#6fe466" stroke-width="1.5"/>
<polygon points="626.3,441.8 626.3,445.2 621.7,443.5" fill="#22c322"/>
<path d="M531.4 493.34 L531.93 493.37 L532.45 493.52 L532.98 493.14 L533.51 493.24 L534.03 493.48 L534.56 493.62 L535.09 493.09 L535.61 493.18 L536.14 493.2 L536.67 493.11 L537.19 493.45 L537.72 493.27 L538.25 493.1 L538.77 493.43 L539.3 493.35 L539.83 493.06 L540.35 492.95 L540.88 493.09 L541.41 492.86 L541.93 493.26 L542.46 493.65 L542.99 493.66 L543.51 494.08 L544.04 494.44 L544.57 494.36 L545.09 494.46 L545.62 494.07 L546.15 493.82 L546.67 494.49 L547.2 494.31 L547.73 494.17 L548.25 494.7 L548.78 494.9 L549.31 494.5 L549.83 494.48 L550.36 494.41 L550.89 494.42 L551.41 494.21 L551.94 494.54 L552.47 494.55 L552.99 494.62 L553.52 494.48 L554.05 494.29 L554.57 494.06 L555.1 494.57 L555.63 494.68 L556.15 494.51 L556.68 494 L557.21 493.7 L557.73 493.49 L558.26 493.54 L558.79 493.39 L559.31 493.55 L559.84 493.64 L560.37 493.75 L560.89 494.25 L561.42 494.39 L561.95 494.49 L562.47 494.43 L563 494.54 L563.53 494.81 L564.05 494.55 L564.58 494.21 L565.11 494.37 L565.63 494.37 L566.16 494.71 L566.69 494.33 L567.21 494.77 L567.74 494.28 L568.27 494.46 L568.79 494.48 L569.32 494.38 L569.85 494.8 L570.37 494.88 L570.9 494.46 L571.43 494.49 L571.95 494.58 L572.48 494.12 L573.01 493.89 L573.53 494.16 L574.06 494.38 L574.59 494.25 L575.11 494.1 L575.64 494.05 L576.17 493.77 L576.69 494.09 L577.22 494.29 L577.75 493.95 L578.27 493.3 L578.8 493.16 L579.33 493.3 L579.85 492.86 L580.38 492.3 L580.91 491.93 L581.43 492.03 L581.96 491.89 L582.49 491.41 L583.01 491.32 L583.54 491.28 L584.07 491.32 L584.59 491.12 L585.12 490.56 L585.65 490.44 L586.17 490.34 L586.7 490.06 L587.23 489.63 L587.75 489.1 L588.28 488.56 L588.81 488.28 L589.33 487.74 L589.86 487.23 L590.39 486.39 L590.91 485.53 L591.44 484.73 L591.97 483.9 L592.49 482.44 L593.02 480.4 L593.55 478.22 L594.07 476.21 L594.6 473.78 L595.13 471.33 L595.65 468.77 L596.18 466.25 L596.71 463.89 L597.23 461.64 L597.76 459.38 L598.29 457.05 L598.81 454.54 L599.34 451.8 L599.87 448.87 L600.39 445.76 L600.92 442.48 L601.45 439 L601.97 435.15 L602.5 431.09 L603.03 427.08 L603.55 422.98 L604.08 418.9 L604.61 415.05 L605.13 411.38 L605.66 407.76 L606.19 404.54 L606.71 402.02 L607.24 399.96 L607.77 398.18 L608.29 396.75 L608.82 395.68 L609.35 394.71 L609.87 394.04 L610.4 393.93 L610.93 394.29 L611.45 394.87 L611.98 396 L612.51 397.68 L613.03 399.84 L613.56 402.7 L614.09 405.79 L614.61 408.75 L615.14 411.77 L615.67 414.85 L616.19 417.97 L616.72 421.12 L617.25 424.33 L617.77 427.54 L618.3 430.69 L618.83 433.82 L619.35 436.9 L619.88 439.89 L620.41 442.75 L620.93 445.53 L621.46 448.37 L621.99 451.39 L622.51 454.37 L623.04 457.05 L623.57 459.19 L624.09 460.81 L624.62 462.21 L625.15 463.47 L625.67 464.57 L626.2 465.57 L626.73 466.57 L627.25 467.81 L627.78 468.89 L628.31 469.97 L628.83 471.43 L629.36 472.65 L629.89 473.95 L630.41 474.76 L630.94 475.76 L631.47 476.04 L631.99 476.49 L632.52 477.31 L633.05 477.76 L633.57 478.4 L634.1 478.59 L634.63 479.24 L635.15 479.08 L635.68 479.6 L636.21 479.67 L636.73 479.87 L637.26 480.71 L637.79 480.96 L638.31 481.58 L638.84 481.63 L639.37 482.19 L639.89 482.8 L640.42 483.04 L640.95 482.97 L641.47 483.43 L642 484.04 L642.53 484.35 L643.05 484.31 L643.58 484.33 L644.11 484.16 L644.63 484.7 L645.16 484.54 L645.69 484.56 L646.21 484.47 L646.74 484.59 L647.27 484.89 L647.79 485.19 L648.32 485.15 L648.85 485.4 L649.37 485.89 L649.9 485.66 L650.43 485.65 L650.95 486.04 L651.48 486.65 L652.01 487.08 L652.53 487.1 L653.06 486.8 L653.59 487.36 L654.11 487.86 L654.64 488.13 L655.17 488.04 L655.69 487.95 L656.22 488.15 L656.75 488.49 L657.27 488.92 L657.8 488.81 L658.33 488.81 L658.85 488.7 L659.38 488.89 L659.91 489.05 L660.43 488.97 L660.96 489.13 L661.49 489.65 L662.01 489.41 L662.54 489.35 L663.07 489.4 L663.59 489.94 L664.12 489.82 L664.65 490.23 L665.17 490.59 L665.7 490.78 L666.23 490.87 L666.75 490.45 L667.28 490.47 L667.81 490.83 L668.33 490.58 L668.86 490.78 L669.39 491.15 L669.91 491.44 L670.44 491.15 L670.97 490.84 L671.49 490.63 L672.02 490.79 L672.55 491.1 L673.07 491.09 L673.6 491.57 L674.13 491.73 L674.65 491.82 L675.18 492.07 L675.71 491.82 L676.23 491.98 L676.76 491.84 L677.29 491.73 L677.81 491.54 L678.34 492.03 L678.87 492.4 L679.39 491.88 L679.92 492.18 L680.45 491.81 L680.97 491.91 L681.5 491.9 L682.03 492.39 L682.55 492.28 L683.08 492.29 L683.61 492.17 L684.13 492.03 L684.66 491.95 L685.19 491.76 L685.71 491.62 L686.24 492 L686.77 492.38 L687.29 492.53 L687.82 492.27 L688.35 492.74 L688.87 492.23 L689.4 492.25" fill="none" stroke="#c2232c" stroke-width="1.45" stroke-linejoin="round"/>
<rect x="531.4" y="384.5" width="158" height="117.7" fill="none" stroke="#1c1c1c" stroke-width="1.35"/>
<line x1="531.4" y1="502.2" x2="531.4" y2="505" stroke="#1c1c1c" stroke-width="1"/>
<line x1="551.15" y1="502.2" x2="551.15" y2="503.8" stroke="#1c1c1c" stroke-width="1"/>
<line x1="570.9" y1="502.2" x2="570.9" y2="505" stroke="#1c1c1c" stroke-width="1"/>
<line x1="590.65" y1="502.2" x2="590.65" y2="503.8" stroke="#1c1c1c" stroke-width="1"/>
<line x1="610.4" y1="502.2" x2="610.4" y2="505" stroke="#1c1c1c" stroke-width="1"/>
<line x1="630.15" y1="502.2" x2="630.15" y2="503.8" stroke="#1c1c1c" stroke-width="1"/>
<line x1="649.9" y1="502.2" x2="649.9" y2="505" stroke="#1c1c1c" stroke-width="1"/>
<line x1="669.65" y1="502.2" x2="669.65" y2="503.8" stroke="#1c1c1c" stroke-width="1"/>
<line x1="689.4" y1="502.2" x2="689.4" y2="505" stroke="#1c1c1c" stroke-width="1"/>
<text x="530.5" y="513.4" font-family='"Liberation Sans", Arial, Helvetica, sans-serif' font-size="8.6" font-weight="bold" text-anchor="middle" fill="#111" stroke="#111" stroke-width="0.2">-2</text>
<text x="570" y="513.4" font-family='"Liberation Sans", Arial, Helvetica, sans-serif' font-size="8.6" font-weight="bold" text-anchor="middle" fill="#111" stroke="#111" stroke-width="0.2">-1</text>
<text x="610.4" y="513.4" font-family='"Liberation Sans", Arial, Helvetica, sans-serif' font-size="8.6" font-weight="bold" text-anchor="middle" fill="#111" stroke="#111" stroke-width="0.2">0</text>
<text x="649.9" y="513.4" font-family='"Liberation Sans", Arial, Helvetica, sans-serif' font-size="8.6" font-weight="bold" text-anchor="middle" fill="#111" stroke="#111" stroke-width="0.2">1</text>
<text x="689.4" y="513.4" font-family='"Liberation Sans", Arial, Helvetica, sans-serif' font-size="8.6" font-weight="bold" text-anchor="middle" fill="#111" stroke="#111" stroke-width="0.2">2</text>
<line x1="528.2" y1="384.5" x2="531.4" y2="384.5" stroke="#111" stroke-width="1.2"/>
<text x="527.2" y="387.5" font-family='"Liberation Sans", Arial, Helvetica, sans-serif' font-size="8.6" font-weight="bold" text-anchor="end" fill="#111" stroke="#111" stroke-width="0.2">1.0</text>
<line x1="528.2" y1="443.35" x2="531.4" y2="443.35" stroke="#111" stroke-width="1.2"/>
<text x="527.2" y="446.35" font-family='"Liberation Sans", Arial, Helvetica, sans-serif' font-size="8.6" font-weight="bold" text-anchor="end" fill="#111" stroke="#111" stroke-width="0.2">0.5</text>
<line x1="528.2" y1="502.2" x2="531.4" y2="502.2" stroke="#111" stroke-width="1.2"/>
<text x="527.2" y="505.2" font-family='"Liberation Sans", Arial, Helvetica, sans-serif' font-size="8.6" font-weight="bold" text-anchor="end" fill="#111" stroke="#111" stroke-width="0.2">0.0</text>
<line x1="529.8" y1="472.77" x2="531.4" y2="472.77" stroke="#1c1c1c" stroke-width="0.9"/>
<line x1="529.8" y1="413.93" x2="531.4" y2="413.93" stroke="#1c1c1c" stroke-width="0.9"/>
<text x="588.8" y="525.2" font-family='"Liberation Sans", Arial, Helvetica, sans-serif' font-size="11.7" font-weight="bold" fill="#111" stroke="#111" stroke-width="0.2">Time(<tspan font-family='"Liberation Serif", "Times New Roman", serif' font-weight="bold" font-size="12.2">μ</tspan>s)</text>
<text transform="translate(510 435) rotate(-90)" font-family='"Liberation Sans", Arial, Helvetica, sans-serif' font-size="11.3" font-weight="bold" text-anchor="middle" fill="#111" stroke="#111" stroke-width="0.2">Intensity(a.u.)</text>
<text x="475.4" y="375.8" font-family='"Liberation Sans", Arial, Helvetica, sans-serif' font-size="13.2" font-weight="bold" fill="#111">(j)</text>
<text x="625.3" y="434" font-family='"Liberation Serif", "Times New Roman", serif' font-size="11.5" font-weight="bold" fill="#111" stroke="#111" stroke-width="0.15"><tspan font-size="12.4">τ</tspan><tspan font-size="7" fill="#555" stroke="none">=</tspan>503.3<tspan font-family='"Liberation Sans", Arial, Helvetica, sans-serif' font-size="11.9">ns</tspan></text>
</svg>
</body>
</html>
